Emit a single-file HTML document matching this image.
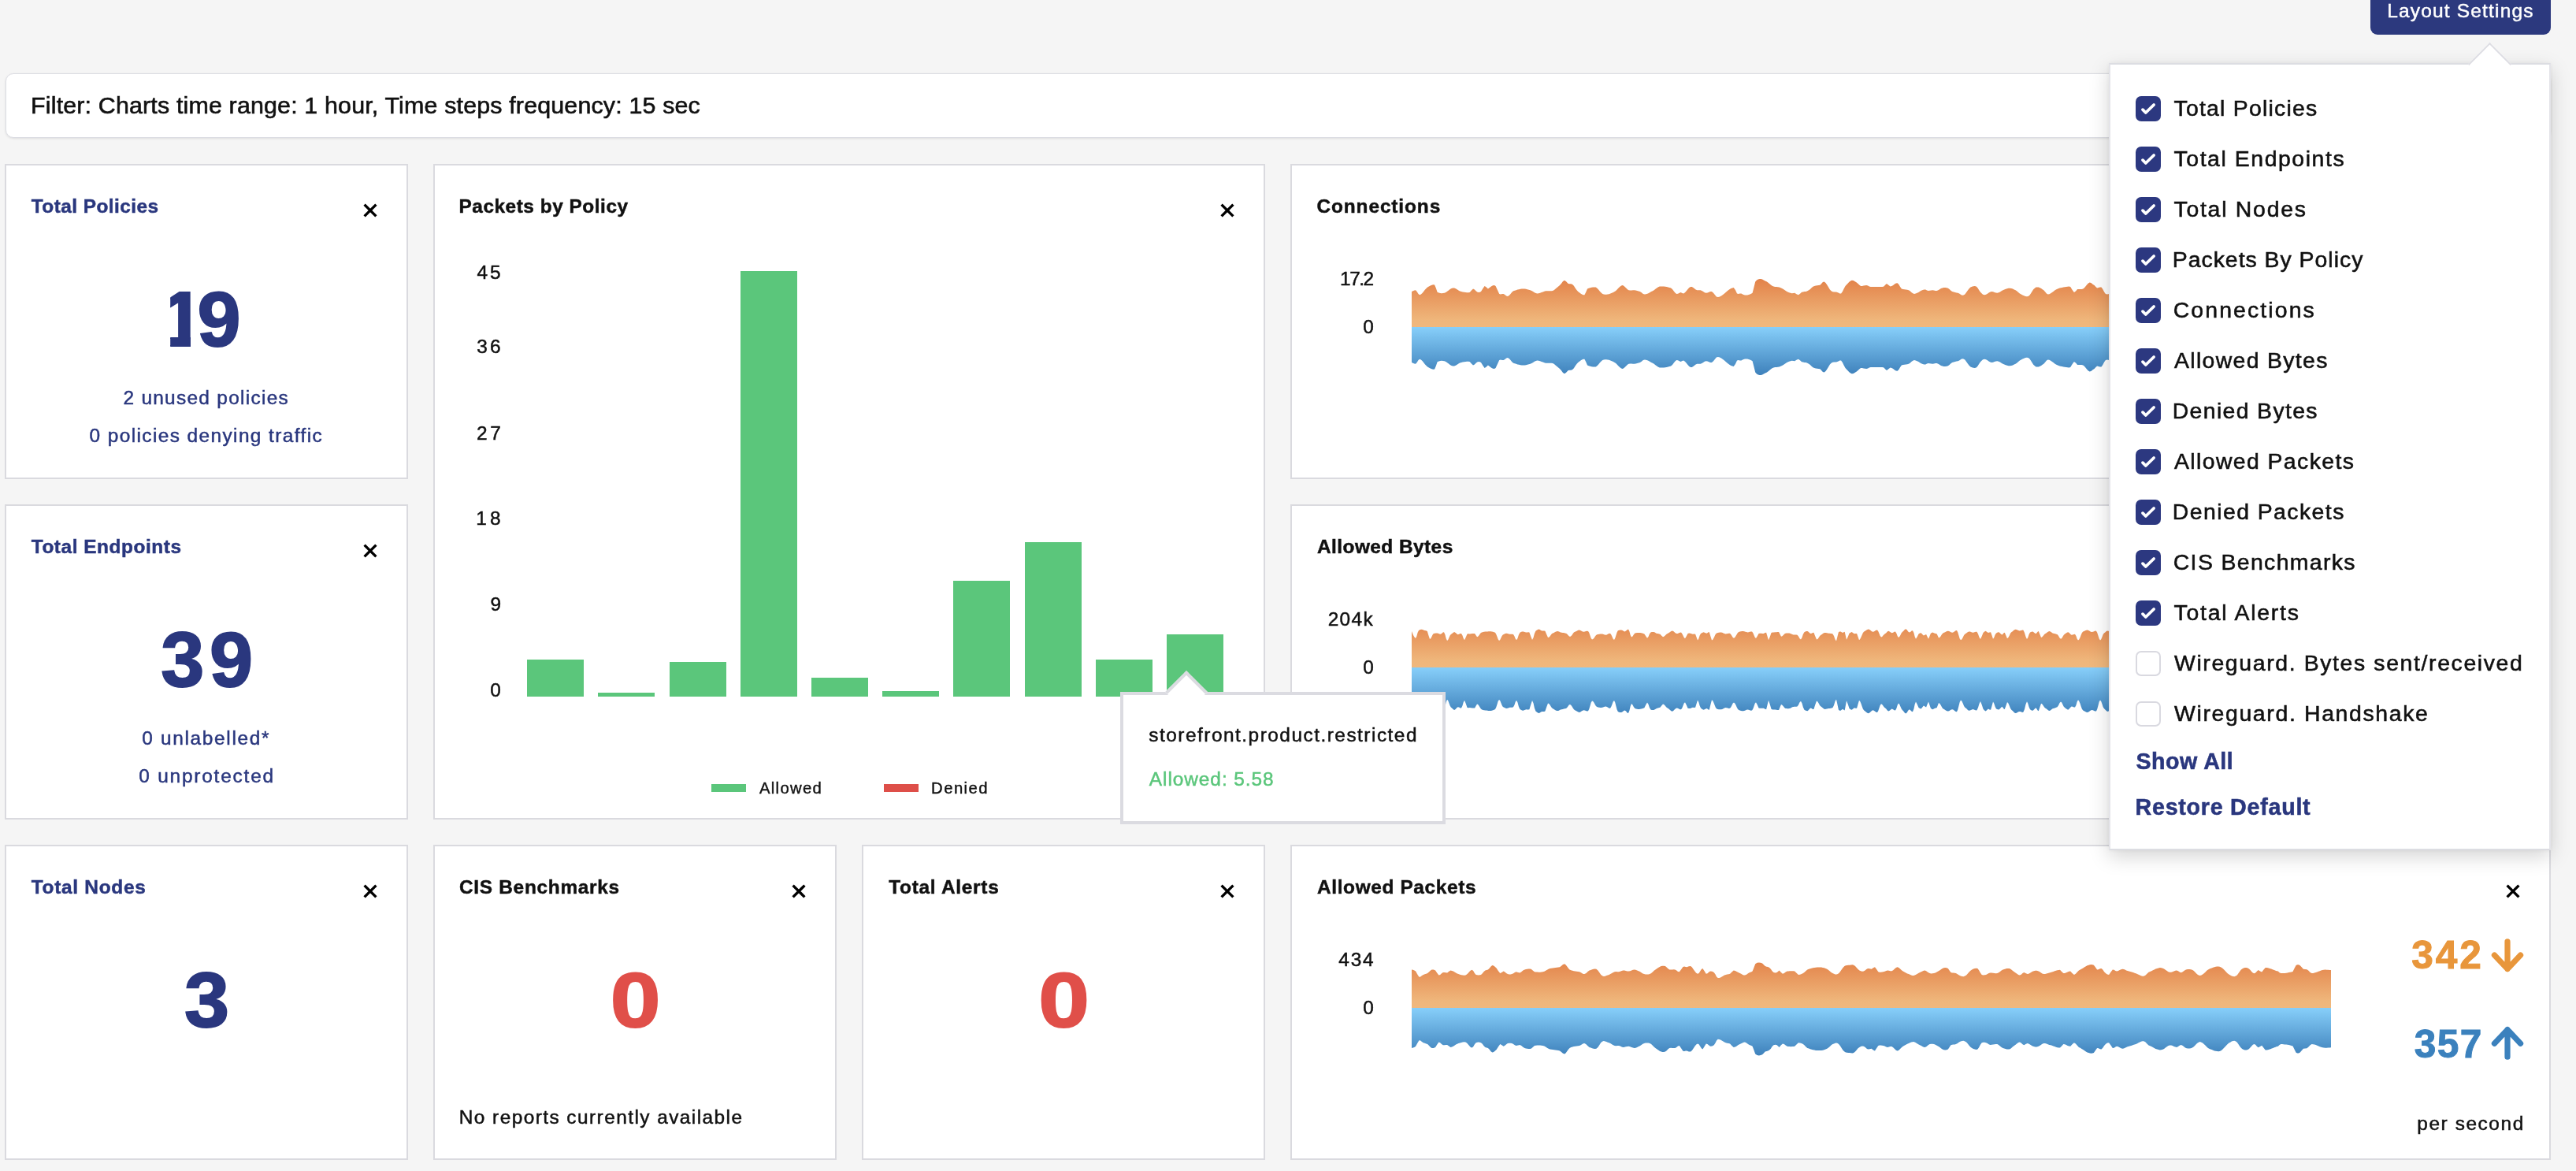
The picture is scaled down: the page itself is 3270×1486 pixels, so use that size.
<!DOCTYPE html>
<html><head><meta charset="utf-8"><title>Dashboard</title>
<style>
html,body{margin:0;padding:0}
body{width:3270px;height:1486px;overflow:hidden;background:#f5f5f5;position:relative;font-family:"Liberation Sans",sans-serif}
#root{position:absolute;left:0;top:0;width:3270px;height:1486px;will-change:transform}
.t{position:absolute;white-space:nowrap;line-height:1;display:block;-webkit-text-stroke:0.02em currentColor}
.b{-webkit-text-stroke:0.02em currentColor}
.card{position:absolute;box-sizing:border-box;background:#fff;border:2px solid #dadadf}
.x{position:absolute;display:block}
.filter{position:absolute;left:6.5px;top:92.5px;width:3231px;height:82px;box-sizing:border-box;background:#fff;border:1.5px solid #dcdde3;border-radius:10px;box-shadow:0 1px 3px rgba(0,0,0,.10)}
.btn{position:absolute;left:3008.5px;top:-20px;width:229.5px;height:64px;border-radius:9px;background:#2c397e}
.bar{position:absolute;background:#5bc67b}
.areas{position:absolute;left:0;top:0;display:block}
.tip{position:absolute;left:1422px;top:878px;width:413px;height:168px;box-sizing:border-box;background:#fff;border:4px solid #dbdbe1}
.tiparrow{position:absolute;left:60.8px;top:-23.5px;width:38px;height:38px;box-sizing:border-box;background:#fff;border-left:4px solid #dbdbe1;border-top:4px solid #dbdbe1;transform:rotate(45deg)}
.dd{position:absolute;left:2677px;top:80px;width:561px;height:999px;box-sizing:border-box;background:#fff;border:2px solid #dcdde2;border-left-color:#e4e4e9;border-right-color:#e4e4e9;box-shadow:0 8px 24px rgba(0,0,0,.17),0 0 6px rgba(0,0,0,.06)}
.ddarrow{position:absolute;left:3141px;top:62.3px;width:39px;height:39px;box-sizing:border-box;background:#fff;border-left:2px solid #dddde3;border-top:2px solid #dddde3;transform:rotate(45deg)}
.ddcover{position:absolute;left:3120px;top:82.5px;width:90px;height:30px;background:#fff}
.cb{position:absolute;width:32px;height:32px;box-sizing:border-box;border:2px solid #d9d9e0;border-radius:7px;background:#fff}
</style></head>
<body>
<div id="root">
<div class="filter"></div>
<span class="t" style="left:39.10px;top:118.27px;font-size:30.4px;color:#111111;letter-spacing:0.164px;">Filter: Charts time range: 1 hour, Time steps frequency: 15 sec</span>
<div class="btn"></div>
<span class="t" style="left:3030.20px;top:1.66px;font-size:24.5px;color:#ffffff;letter-spacing:1.175px;">Layout Settings</span>
<div class="card" style="left:6px;top:208px;width:512px;height:400px"></div>
<div class="card" style="left:6px;top:640px;width:512px;height:400px"></div>
<div class="card" style="left:6px;top:1072px;width:512px;height:400px"></div>
<div class="card" style="left:550px;top:208px;width:1056px;height:832px"></div>
<div class="card" style="left:550px;top:1072px;width:512px;height:400px"></div>
<div class="card" style="left:1094px;top:1072px;width:512px;height:400px"></div>
<div class="card" style="left:1638px;top:208px;width:1600px;height:400px"></div>
<div class="card" style="left:1638px;top:640px;width:1600px;height:400px"></div>
<div class="card" style="left:1638px;top:1072px;width:1600px;height:400px"></div>
<span class="t b" style="left:39.75px;top:249.85px;font-size:24.4px;color:#2a377e;font-weight:700;letter-spacing:0.462px;">Total Policies</span>
<span class="t b" style="left:39.75px;top:681.85px;font-size:24.4px;color:#2a377e;font-weight:700;letter-spacing:0.554px;">Total Endpoints</span>
<span class="t b" style="left:39.75px;top:1113.85px;font-size:24.4px;color:#2a377e;font-weight:700;letter-spacing:0.725px;">Total Nodes</span>
<span class="t b" style="left:582.50px;top:249.85px;font-size:24.4px;color:#111111;font-weight:700;letter-spacing:0.531px;">Packets by Policy</span>
<span class="t b" style="left:583.00px;top:1113.85px;font-size:24.4px;color:#111111;font-weight:700;letter-spacing:0.712px;">CIS Benchmarks</span>
<span class="t b" style="left:1128.25px;top:1113.85px;font-size:24.4px;color:#111111;font-weight:700;letter-spacing:0.727px;">Total Alerts</span>
<span class="t b" style="left:1671.50px;top:249.85px;font-size:24.4px;color:#111111;font-weight:700;letter-spacing:0.900px;">Connections</span>
<span class="t b" style="left:1672.00px;top:681.85px;font-size:24.4px;color:#111111;font-weight:700;letter-spacing:0.458px;">Allowed Bytes</span>
<span class="t b" style="left:1672.00px;top:1113.85px;font-size:24.4px;color:#111111;font-weight:700;letter-spacing:0.643px;">Allowed Packets</span>
<svg class="x" style="left:459.50px;top:256.80px" width="20" height="20" viewBox="0 0 20 20"><path d="M2.6 2.6 L17.4 17.4 M17.4 2.6 L2.6 17.4" stroke="#000" stroke-width="3.4" fill="none"/></svg>
<svg class="x" style="left:459.50px;top:688.80px" width="20" height="20" viewBox="0 0 20 20"><path d="M2.6 2.6 L17.4 17.4 M17.4 2.6 L2.6 17.4" stroke="#000" stroke-width="3.4" fill="none"/></svg>
<svg class="x" style="left:459.50px;top:1120.80px" width="20" height="20" viewBox="0 0 20 20"><path d="M2.6 2.6 L17.4 17.4 M17.4 2.6 L2.6 17.4" stroke="#000" stroke-width="3.4" fill="none"/></svg>
<svg class="x" style="left:1003.50px;top:1120.80px" width="20" height="20" viewBox="0 0 20 20"><path d="M2.6 2.6 L17.4 17.4 M17.4 2.6 L2.6 17.4" stroke="#000" stroke-width="3.4" fill="none"/></svg>
<svg class="x" style="left:1547.50px;top:1120.80px" width="20" height="20" viewBox="0 0 20 20"><path d="M2.6 2.6 L17.4 17.4 M17.4 2.6 L2.6 17.4" stroke="#000" stroke-width="3.4" fill="none"/></svg>
<svg class="x" style="left:1547.50px;top:256.80px" width="20" height="20" viewBox="0 0 20 20"><path d="M2.6 2.6 L17.4 17.4 M17.4 2.6 L2.6 17.4" stroke="#000" stroke-width="3.4" fill="none"/></svg>
<svg class="x" style="left:3179.50px;top:256.80px" width="20" height="20" viewBox="0 0 20 20"><path d="M2.6 2.6 L17.4 17.4 M17.4 2.6 L2.6 17.4" stroke="#000" stroke-width="3.4" fill="none"/></svg>
<svg class="x" style="left:3179.50px;top:688.80px" width="20" height="20" viewBox="0 0 20 20"><path d="M2.6 2.6 L17.4 17.4 M17.4 2.6 L2.6 17.4" stroke="#000" stroke-width="3.4" fill="none"/></svg>
<svg class="x" style="left:3179.50px;top:1120.80px" width="20" height="20" viewBox="0 0 20 20"><path d="M2.6 2.6 L17.4 17.4 M17.4 2.6 L2.6 17.4" stroke="#000" stroke-width="3.4" fill="none"/></svg>
<span class="t b" style="left:204.0px;top:354.70px;font-size:99px;color:#2a377e;font-weight:700;"><span style="display:inline-block;clip-path:inset(0 8.5px 0 12.2px);letter-spacing:-8.6px">1</span>9</span>
<span class="t b" style="left:204.25px;top:786.70px;font-size:99px;color:#2a377e;font-weight:700;letter-spacing:6.750px;">39</span>
<span class="t b" style="left:234.62px;top:1218.80px;font-size:99px;color:#2a377e;font-weight:700;transform:scaleX(1.036);transform-origin:26.88px 50%">3</span>
<span class="t b" style="left:778.92px;top:1218.80px;font-size:99px;color:#e04f49;font-weight:700;transform:scaleX(1.158);transform-origin:27.38px 50%">0</span>
<span class="t b" style="left:1322.62px;top:1218.80px;font-size:99px;color:#e04f49;font-weight:700;transform:scaleX(1.175);transform-origin:27.38px 50%">0</span>
<span class="t" style="left:156.45px;top:493.15px;font-size:24.4px;color:#2a377e;letter-spacing:1.300px;">2 unused policies</span>
<span class="t" style="left:113.55px;top:541.15px;font-size:24.4px;color:#2a377e;letter-spacing:1.410px;">0 policies denying traffic</span>
<span class="t" style="left:180.25px;top:925.15px;font-size:24.4px;color:#2a377e;letter-spacing:1.688px;">0 unlabelled*</span>
<span class="t" style="left:176.20px;top:973.15px;font-size:24.4px;color:#2a377e;letter-spacing:1.812px;">0 unprotected</span>
<span class="t" style="left:582.80px;top:1406.35px;font-size:24.4px;color:#111111;letter-spacing:1.447px;">No reports currently available</span>
<div class="bar" style="left:669px;top:837px;width:72px;height:46.5px"></div>
<div class="bar" style="left:759px;top:879px;width:72px;height:4.5px"></div>
<div class="bar" style="left:849.5px;top:840px;width:72px;height:43.5px"></div>
<div class="bar" style="left:939.5px;top:343.5px;width:72px;height:540.0px"></div>
<div class="bar" style="left:1029.5px;top:859.5px;width:72px;height:24.0px"></div>
<div class="bar" style="left:1120px;top:877px;width:72px;height:6.5px"></div>
<div class="bar" style="left:1210px;top:736.5px;width:72px;height:147.0px"></div>
<div class="bar" style="left:1300.5px;top:688px;width:72px;height:195.5px"></div>
<div class="bar" style="left:1390.5px;top:836.5px;width:72px;height:47.0px"></div>
<div class="bar" style="left:1481px;top:804.5px;width:72px;height:79.0px"></div>
<span class="t" style="left:605.40px;top:334.35px;font-size:24.4px;color:#111111;letter-spacing:3.100px;">45</span>
<span class="t" style="left:605.15px;top:428.35px;font-size:24.4px;color:#111111;letter-spacing:3.350px;">36</span>
<span class="t" style="left:604.90px;top:537.85px;font-size:24.4px;color:#111111;letter-spacing:3.850px;">27</span>
<span class="t" style="left:604.15px;top:646.35px;font-size:24.4px;color:#111111;letter-spacing:4.350px;">18</span>
<span class="t" style="left:622.50px;top:754.85px;font-size:24.4px;color:#111111;">9</span>
<span class="t" style="left:622.25px;top:863.85px;font-size:24.4px;color:#111111;">0</span>
<div style="position:absolute;left:903px;top:995px;width:44px;height:10px;background:#5bc67b"></div>
<div style="position:absolute;left:1122px;top:995px;width:44px;height:10px;background:#de4f49"></div>
<span class="t" style="left:963.90px;top:989.62px;font-size:20.3px;color:#111111;letter-spacing:1.325px;">Allowed</span>
<span class="t" style="left:1182.10px;top:989.62px;font-size:20.3px;color:#111111;letter-spacing:1.440px;">Denied</span>
<svg class="areas" width="3270" height="1486" viewBox="0 0 3270 1486"><linearGradient id="oa" gradientUnits="userSpaceOnUse" x1="0" y1="355" x2="0" y2="415"><stop offset="0" stop-color="#e3834a"/><stop offset="0.85" stop-color="#efb67b"/><stop offset="1" stop-color="#f0b87d"/></linearGradient><linearGradient id="ba" gradientUnits="userSpaceOnUse" x1="0" y1="415" x2="0" y2="475"><stop offset="0" stop-color="#87cffa"/><stop offset="1" stop-color="#3f82bc"/></linearGradient><path d="M1792.0 415.0 L1792.0 370.0 L1793.7 369.3 L1795.4 368.4 L1797.1 368.2 L1798.8 370.2 L1800.5 373.1 L1802.1 374.3 L1803.8 373.5 L1805.5 372.0 L1807.1 370.0 L1808.8 367.8 L1810.5 365.9 L1812.1 364.6 L1813.9 363.5 L1815.7 362.5 L1817.5 361.7 L1819.3 361.3 L1821.1 361.4 L1822.9 365.8 L1824.6 370.7 L1826.4 371.5 L1828.2 371.9 L1830.0 372.2 L1831.8 372.1 L1833.6 371.8 L1835.4 371.1 L1837.1 369.8 L1838.9 368.4 L1840.7 367.0 L1842.5 365.9 L1844.3 365.4 L1846.1 365.6 L1847.9 366.3 L1849.6 367.3 L1851.4 368.4 L1853.2 369.4 L1855.0 370.0 L1856.8 370.4 L1858.6 370.7 L1860.4 371.0 L1862.1 371.2 L1863.9 371.2 L1865.7 371.1 L1867.9 368.6 L1870.0 366.4 L1871.9 367.4 L1873.8 369.4 L1875.7 370.7 L1877.9 371.0 L1880.0 370.0 L1882.3 366.2 L1884.6 362.9 L1886.8 364.5 L1888.9 366.4 L1891.2 364.8 L1893.6 362.9 L1895.2 362.3 L1896.9 362.1 L1898.6 362.9 L1900.9 367.9 L1903.2 372.9 L1905.0 373.4 L1906.8 373.0 L1908.6 372.9 L1910.4 374.0 L1912.1 375.6 L1913.9 376.1 L1915.7 375.0 L1917.5 373.0 L1919.3 370.8 L1921.1 369.3 L1922.9 368.7 L1924.6 368.2 L1926.4 367.6 L1928.2 367.2 L1930.0 366.8 L1931.8 366.6 L1933.6 366.4 L1935.4 366.5 L1937.1 366.7 L1938.9 367.2 L1940.7 367.7 L1942.5 368.2 L1944.3 369.0 L1946.1 370.0 L1947.9 371.2 L1949.6 372.1 L1951.4 372.5 L1953.2 372.3 L1955.0 371.8 L1956.8 371.1 L1958.6 370.4 L1960.4 369.7 L1962.1 369.3 L1963.9 369.2 L1965.7 369.2 L1967.5 369.3 L1969.3 369.3 L1971.1 368.9 L1972.9 368.0 L1974.6 366.6 L1976.4 365.0 L1978.2 363.5 L1980.0 362.1 L1982.0 359.7 L1984.0 357.1 L1986.1 355.7 L1988.4 357.5 L1990.7 360.0 L1992.5 360.3 L1994.3 360.3 L1996.1 361.1 L1997.9 362.8 L1999.6 365.4 L2001.4 368.0 L2003.2 370.0 L2004.9 371.2 L2006.5 372.5 L2008.1 373.5 L2009.8 374.2 L2011.4 374.3 L2013.2 370.7 L2015.0 366.4 L2016.8 365.8 L2018.6 365.2 L2020.4 364.7 L2022.1 364.4 L2023.9 364.4 L2025.7 364.6 L2027.4 365.7 L2029.1 367.6 L2030.9 369.7 L2032.6 371.6 L2034.3 372.9 L2035.9 373.6 L2037.5 373.8 L2039.1 373.8 L2040.7 373.6 L2042.5 373.2 L2044.3 372.6 L2046.1 371.8 L2047.9 370.9 L2049.6 370.0 L2051.2 368.9 L2052.9 367.3 L2054.5 365.6 L2056.1 363.9 L2057.7 362.7 L2059.3 362.1 L2060.9 362.6 L2062.6 363.9 L2064.2 365.6 L2065.9 367.2 L2067.5 368.2 L2069.3 368.5 L2071.1 368.4 L2072.9 368.2 L2074.6 368.2 L2076.4 368.5 L2078.2 368.9 L2080.0 369.4 L2081.8 370.0 L2083.8 371.3 L2085.8 372.9 L2087.9 373.6 L2089.5 373.3 L2091.2 372.7 L2092.9 371.9 L2094.5 371.0 L2096.2 370.1 L2097.9 369.3 L2099.6 368.2 L2101.4 366.8 L2103.2 365.4 L2105.0 364.2 L2106.8 363.6 L2108.6 363.4 L2110.4 363.4 L2112.1 363.6 L2113.9 363.8 L2115.7 364.1 L2117.5 364.5 L2119.3 364.9 L2121.1 365.4 L2122.9 367.0 L2124.6 369.3 L2126.4 371.5 L2128.2 372.9 L2130.0 372.8 L2131.8 371.7 L2133.6 371.1 L2135.4 372.1 L2137.1 372.5 L2138.9 371.3 L2140.7 369.2 L2142.5 366.9 L2144.3 365.0 L2146.1 363.9 L2147.7 364.1 L2149.4 365.0 L2151.0 366.3 L2152.6 367.5 L2154.3 368.2 L2156.4 368.3 L2158.6 368.2 L2160.4 368.9 L2162.1 370.1 L2163.9 371.2 L2165.7 371.8 L2167.5 371.5 L2169.3 370.7 L2171.1 370.0 L2172.9 370.0 L2174.8 371.5 L2176.8 374.1 L2178.8 376.4 L2180.7 377.1 L2182.4 376.8 L2184.0 376.0 L2185.7 375.0 L2187.4 373.8 L2189.0 372.5 L2190.7 371.1 L2192.4 369.6 L2194.0 368.3 L2195.7 367.1 L2197.4 366.1 L2199.0 365.4 L2200.7 365.0 L2202.9 368.1 L2205.0 372.5 L2206.8 372.9 L2208.6 372.6 L2210.4 372.5 L2212.7 373.7 L2215.0 374.6 L2216.6 374.6 L2218.2 374.4 L2219.8 374.1 L2221.4 373.6 L2223.0 372.8 L2224.6 371.8 L2226.4 364.7 L2228.2 357.5 L2230.0 355.5 L2231.8 354.4 L2233.6 353.9 L2235.4 354.1 L2237.1 354.6 L2238.9 355.4 L2240.7 356.4 L2242.5 357.3 L2244.3 358.6 L2246.1 360.1 L2247.9 361.5 L2249.6 362.7 L2251.4 363.6 L2253.2 364.1 L2255.0 364.1 L2256.8 364.2 L2258.6 364.6 L2260.4 365.2 L2262.1 366.1 L2263.9 367.1 L2265.7 368.3 L2267.5 369.4 L2269.3 370.4 L2271.1 371.2 L2272.9 371.8 L2274.6 372.2 L2276.4 371.9 L2278.2 371.8 L2280.5 373.2 L2282.9 374.3 L2285.0 372.7 L2287.1 370.7 L2288.9 370.4 L2290.7 370.1 L2292.5 369.9 L2294.3 369.3 L2296.1 368.3 L2297.9 366.9 L2299.6 365.3 L2301.4 363.8 L2303.2 362.9 L2305.0 362.4 L2306.8 362.2 L2308.6 362.1 L2310.4 361.8 L2312.1 360.1 L2313.9 358.0 L2315.7 357.5 L2317.5 359.0 L2319.3 361.6 L2321.1 364.6 L2322.9 367.5 L2324.6 369.3 L2326.4 370.2 L2328.2 370.5 L2330.0 370.6 L2331.8 370.7 L2333.6 371.6 L2335.4 372.6 L2337.1 372.5 L2338.9 370.0 L2340.7 366.2 L2342.5 362.9 L2344.1 361.3 L2345.8 359.5 L2347.4 357.8 L2349.1 356.5 L2350.7 355.7 L2352.7 356.0 L2354.8 357.3 L2356.8 358.6 L2358.6 360.0 L2360.4 361.7 L2362.1 362.9 L2363.9 362.9 L2365.7 362.6 L2367.5 362.3 L2369.3 362.1 L2371.1 362.6 L2372.9 363.4 L2374.6 363.9 L2376.4 364.0 L2378.2 364.1 L2380.0 364.0 L2381.8 364.0 L2383.6 363.9 L2385.5 363.9 L2387.5 363.9 L2389.5 363.9 L2391.4 363.6 L2393.2 361.6 L2395.0 360.0 L2397.3 361.8 L2399.6 363.6 L2401.4 363.0 L2403.2 361.9 L2405.0 360.6 L2406.8 359.6 L2408.6 359.3 L2410.4 361.0 L2412.1 364.1 L2413.9 366.4 L2415.7 367.0 L2417.5 367.3 L2419.3 367.6 L2421.1 367.8 L2422.9 368.2 L2424.6 369.3 L2426.4 370.9 L2428.2 372.3 L2430.0 372.9 L2431.8 372.6 L2433.6 371.8 L2435.4 370.9 L2437.1 369.8 L2438.9 368.8 L2440.7 368.0 L2442.5 367.5 L2444.3 367.6 L2446.1 368.4 L2447.9 368.9 L2449.6 368.8 L2451.4 368.4 L2453.2 368.2 L2455.0 368.5 L2456.8 368.9 L2458.6 368.9 L2460.4 368.3 L2462.1 367.2 L2463.9 366.0 L2465.7 365.4 L2467.5 365.1 L2469.3 365.1 L2471.1 365.3 L2472.9 365.7 L2474.6 366.9 L2476.4 368.7 L2478.2 370.0 L2480.0 370.5 L2481.8 371.0 L2483.6 371.4 L2485.4 371.8 L2487.1 372.6 L2488.9 373.8 L2490.7 374.7 L2492.5 374.6 L2494.3 373.4 L2496.1 371.1 L2497.9 368.5 L2499.6 366.2 L2501.4 364.6 L2503.2 363.7 L2505.0 363.2 L2506.8 363.1 L2508.6 363.6 L2510.2 365.1 L2511.8 367.5 L2513.4 370.0 L2515.0 371.8 L2517.1 373.7 L2519.3 374.3 L2521.1 373.8 L2522.9 372.8 L2524.6 371.6 L2526.4 370.6 L2528.2 370.0 L2530.0 370.2 L2531.8 370.9 L2533.6 371.6 L2535.4 371.8 L2537.1 371.3 L2538.9 370.4 L2540.7 369.3 L2542.5 368.2 L2544.3 367.5 L2546.1 366.8 L2547.9 366.3 L2549.6 365.8 L2551.4 365.7 L2553.2 366.0 L2555.0 366.6 L2556.8 367.4 L2558.6 368.2 L2560.4 369.4 L2562.1 370.9 L2563.9 372.4 L2565.7 373.6 L2567.5 374.4 L2569.3 375.2 L2571.1 376.0 L2572.9 376.3 L2574.6 376.1 L2576.3 374.7 L2577.9 372.4 L2579.6 369.7 L2581.2 367.3 L2582.9 365.7 L2584.5 364.6 L2586.2 364.4 L2587.9 364.6 L2589.5 365.2 L2591.1 366.1 L2592.7 367.2 L2594.3 368.2 L2596.1 370.2 L2597.9 372.6 L2599.6 373.6 L2601.4 373.2 L2603.2 372.3 L2605.0 371.0 L2606.8 369.7 L2608.6 368.3 L2610.4 367.2 L2612.1 366.4 L2613.9 365.7 L2615.7 365.2 L2617.5 364.9 L2619.3 364.6 L2621.1 364.3 L2622.9 364.0 L2624.6 363.7 L2626.4 363.6 L2628.2 363.9 L2630.5 367.7 L2632.9 371.1 L2635.0 369.5 L2637.1 367.1 L2638.9 366.9 L2640.7 367.0 L2642.5 367.0 L2644.3 366.4 L2645.9 365.2 L2647.6 363.3 L2649.2 361.3 L2650.9 359.5 L2652.5 358.6 L2654.5 359.0 L2656.5 360.7 L2658.6 362.1 L2660.4 364.0 L2662.1 365.4 L2663.9 365.1 L2665.7 364.4 L2667.5 364.6 L2669.3 367.0 L2671.1 370.4 L2672.9 372.9 L2675.0 373.5 L2677.1 372.9 L2678.8 372.2 L2680.5 371.2 L2682.1 370.2 L2683.8 369.5 L2685.7 369.0 L2687.6 368.6 L2689.5 368.4 L2691.4 368.8 L2693.3 369.8 L2695.2 371.5 L2697.0 373.3 L2698.9 374.8 L2700.8 375.2 L2702.5 372.7 L2704.2 368.4 L2705.9 366.0 L2707.6 366.9 L2709.3 369.2 L2711.0 371.8 L2712.7 373.2 L2714.4 373.2 L2716.1 373.0 L2717.8 372.5 L2719.5 371.8 L2721.2 371.2 L2722.9 370.7 L2724.7 370.4 L2726.5 370.2 L2728.3 370.0 L2730.1 370.0 L2731.9 370.0 L2733.7 370.1 L2735.5 370.3 L2737.4 371.0 L2739.3 372.1 L2741.2 373.3 L2743.1 374.1 L2745.0 374.2 L2746.9 373.1 L2748.8 371.2 L2750.7 368.9 L2752.5 366.8 L2754.4 365.6 L2756.2 365.2 L2757.9 365.3 L2759.6 365.7 L2761.4 366.3 L2763.1 367.1 L2764.7 368.2 L2766.3 369.8 L2767.9 371.6 L2769.6 373.3 L2771.2 374.6 L2772.8 375.2 L2774.5 374.8 L2776.2 373.7 L2777.9 372.1 L2779.7 370.6 L2781.4 369.4 L2783.1 368.9 L2784.9 370.0 L2786.7 372.2 L2788.4 374.5 L2790.2 375.6 L2792.0 375.4 L2793.9 374.7 L2795.7 373.6 L2797.6 372.4 L2799.4 371.2 L2801.3 370.3 L2802.9 369.5 L2804.6 368.6 L2806.3 367.6 L2808.0 366.7 L2809.6 366.0 L2811.3 365.5 L2813.0 365.1 L2814.6 365.0 L2816.3 364.9 L2818.0 364.9 L2819.6 364.9 L2821.3 364.9 L2823.2 365.2 L2825.2 365.7 L2827.1 366.2 L2829.1 366.4 L2830.7 366.1 L2832.3 365.5 L2833.9 364.8 L2835.6 364.5 L2837.2 364.8 L2839.0 365.8 L2840.9 367.6 L2842.7 369.8 L2844.6 371.9 L2846.5 373.7 L2848.3 374.8 L2850.3 375.1 L2852.3 374.3 L2854.3 373.4 L2856.0 373.1 L2857.6 372.7 L2859.3 372.2 L2861.0 371.7 L2862.7 371.2 L2864.4 370.9 L2866.0 370.8 L2867.9 370.9 L2869.8 371.3 L2871.7 371.7 L2873.5 372.2 L2875.4 372.4 L2877.1 372.4 L2878.8 372.2 L2880.6 372.0 L2882.3 371.7 L2884.0 371.4 L2885.8 370.9 L2887.7 370.3 L2889.6 369.7 L2891.4 369.0 L2893.2 368.3 L2895.1 367.4 L2896.9 366.5 L2898.7 365.7 L2900.5 365.1 L2902.1 364.9 L2903.8 364.8 L2905.4 364.8 L2907.0 364.9 L2908.7 364.9 L2910.3 364.9 L2912.1 364.7 L2914.0 364.3 L2915.8 363.9 L2917.6 363.7 L2919.5 363.7 L2921.3 364.1 L2922.9 365.3 L2924.5 367.2 L2926.1 369.5 L2927.8 371.7 L2929.4 373.4 L2931.0 374.0 L2932.8 373.4 L2934.7 371.7 L2936.5 369.5 L2938.3 367.2 L2940.2 365.4 L2942.0 364.4 L2943.6 364.4 L2945.2 364.9 L2946.9 365.8 L2948.5 366.8 L2950.1 367.8 L2951.7 368.6 L2953.3 369.2 L2955.2 369.7 L2957.1 369.9 L2959.0 370.0 L2959.0 415.0 Z" fill="url(#oa)"/><path d="M1792.0 415.0 L1792.0 460.0 L1793.7 460.7 L1795.4 461.6 L1797.1 461.8 L1798.8 459.8 L1800.5 456.9 L1802.1 455.7 L1803.8 456.5 L1805.5 458.0 L1807.1 460.0 L1808.8 462.2 L1810.5 464.1 L1812.1 465.4 L1813.9 466.5 L1815.7 467.5 L1817.5 468.3 L1819.3 468.7 L1821.1 468.6 L1822.9 464.2 L1824.6 459.3 L1826.4 458.5 L1828.2 458.1 L1830.0 457.8 L1831.8 457.9 L1833.6 458.2 L1835.4 458.9 L1837.1 460.2 L1838.9 461.6 L1840.7 463.0 L1842.5 464.1 L1844.3 464.6 L1846.1 464.4 L1847.9 463.7 L1849.6 462.7 L1851.4 461.6 L1853.2 460.6 L1855.0 460.0 L1856.8 459.6 L1858.6 459.3 L1860.4 459.0 L1862.1 458.8 L1863.9 458.8 L1865.7 458.9 L1867.9 461.4 L1870.0 463.6 L1871.9 462.6 L1873.8 460.6 L1875.7 459.3 L1877.9 459.0 L1880.0 460.0 L1882.3 463.8 L1884.6 467.1 L1886.8 465.5 L1888.9 463.6 L1891.2 465.2 L1893.6 467.1 L1895.2 467.7 L1896.9 467.9 L1898.6 467.1 L1900.9 462.1 L1903.2 457.1 L1905.0 456.6 L1906.8 457.0 L1908.6 457.1 L1910.4 456.0 L1912.1 454.4 L1913.9 453.9 L1915.7 455.0 L1917.5 457.0 L1919.3 459.2 L1921.1 460.7 L1922.9 461.3 L1924.6 461.8 L1926.4 462.4 L1928.2 462.8 L1930.0 463.2 L1931.8 463.4 L1933.6 463.6 L1935.4 463.5 L1937.1 463.3 L1938.9 462.8 L1940.7 462.3 L1942.5 461.8 L1944.3 461.0 L1946.1 460.0 L1947.9 458.8 L1949.6 457.9 L1951.4 457.5 L1953.2 457.7 L1955.0 458.2 L1956.8 458.9 L1958.6 459.6 L1960.4 460.3 L1962.1 460.7 L1963.9 460.8 L1965.7 460.8 L1967.5 460.7 L1969.3 460.7 L1971.1 461.1 L1972.9 462.0 L1974.6 463.4 L1976.4 465.0 L1978.2 466.5 L1980.0 467.9 L1982.0 470.3 L1984.0 472.9 L1986.1 474.3 L1988.4 472.5 L1990.7 470.0 L1992.5 469.7 L1994.3 469.7 L1996.1 468.9 L1997.9 467.2 L1999.6 464.6 L2001.4 462.0 L2003.2 460.0 L2004.9 458.8 L2006.5 457.5 L2008.1 456.5 L2009.8 455.8 L2011.4 455.7 L2013.2 459.3 L2015.0 463.6 L2016.8 464.2 L2018.6 464.8 L2020.4 465.3 L2022.1 465.6 L2023.9 465.6 L2025.7 465.4 L2027.4 464.3 L2029.1 462.4 L2030.9 460.3 L2032.6 458.4 L2034.3 457.1 L2035.9 456.4 L2037.5 456.2 L2039.1 456.2 L2040.7 456.4 L2042.5 456.8 L2044.3 457.4 L2046.1 458.2 L2047.9 459.1 L2049.6 460.0 L2051.2 461.1 L2052.9 462.7 L2054.5 464.4 L2056.1 466.1 L2057.7 467.3 L2059.3 467.9 L2060.9 467.4 L2062.6 466.1 L2064.2 464.4 L2065.9 462.8 L2067.5 461.8 L2069.3 461.5 L2071.1 461.6 L2072.9 461.8 L2074.6 461.8 L2076.4 461.5 L2078.2 461.1 L2080.0 460.6 L2081.8 460.0 L2083.8 458.7 L2085.8 457.1 L2087.9 456.4 L2089.5 456.7 L2091.2 457.3 L2092.9 458.1 L2094.5 459.0 L2096.2 459.9 L2097.9 460.7 L2099.6 461.8 L2101.4 463.2 L2103.2 464.6 L2105.0 465.8 L2106.8 466.4 L2108.6 466.6 L2110.4 466.6 L2112.1 466.4 L2113.9 466.2 L2115.7 465.9 L2117.5 465.5 L2119.3 465.1 L2121.1 464.6 L2122.9 463.0 L2124.6 460.7 L2126.4 458.5 L2128.2 457.1 L2130.0 457.2 L2131.8 458.3 L2133.6 458.9 L2135.4 457.9 L2137.1 457.5 L2138.9 458.7 L2140.7 460.8 L2142.5 463.1 L2144.3 465.0 L2146.1 466.1 L2147.7 465.9 L2149.4 465.0 L2151.0 463.7 L2152.6 462.5 L2154.3 461.8 L2156.4 461.7 L2158.6 461.8 L2160.4 461.1 L2162.1 459.9 L2163.9 458.8 L2165.7 458.2 L2167.5 458.5 L2169.3 459.3 L2171.1 460.0 L2172.9 460.0 L2174.8 458.5 L2176.8 455.9 L2178.8 453.6 L2180.7 452.9 L2182.4 453.2 L2184.0 454.0 L2185.7 455.0 L2187.4 456.2 L2189.0 457.5 L2190.7 458.9 L2192.4 460.4 L2194.0 461.7 L2195.7 462.9 L2197.4 463.9 L2199.0 464.6 L2200.7 465.0 L2202.9 461.9 L2205.0 457.5 L2206.8 457.1 L2208.6 457.4 L2210.4 457.5 L2212.7 456.3 L2215.0 455.4 L2216.6 455.4 L2218.2 455.6 L2219.8 455.9 L2221.4 456.4 L2223.0 457.2 L2224.6 458.2 L2226.4 465.3 L2228.2 472.5 L2230.0 474.5 L2231.8 475.6 L2233.6 476.1 L2235.4 475.9 L2237.1 475.4 L2238.9 474.6 L2240.7 473.6 L2242.5 472.7 L2244.3 471.4 L2246.1 469.9 L2247.9 468.5 L2249.6 467.3 L2251.4 466.4 L2253.2 465.9 L2255.0 465.9 L2256.8 465.8 L2258.6 465.4 L2260.4 464.8 L2262.1 463.9 L2263.9 462.9 L2265.7 461.7 L2267.5 460.6 L2269.3 459.6 L2271.1 458.8 L2272.9 458.2 L2274.6 457.8 L2276.4 458.1 L2278.2 458.2 L2280.5 456.8 L2282.9 455.7 L2285.0 457.3 L2287.1 459.3 L2288.9 459.6 L2290.7 459.9 L2292.5 460.1 L2294.3 460.7 L2296.1 461.7 L2297.9 463.1 L2299.6 464.7 L2301.4 466.2 L2303.2 467.1 L2305.0 467.6 L2306.8 467.8 L2308.6 467.9 L2310.4 468.2 L2312.1 469.9 L2313.9 472.0 L2315.7 472.5 L2317.5 471.0 L2319.3 468.4 L2321.1 465.4 L2322.9 462.5 L2324.6 460.7 L2326.4 459.8 L2328.2 459.5 L2330.0 459.4 L2331.8 459.3 L2333.6 458.4 L2335.4 457.4 L2337.1 457.5 L2338.9 460.0 L2340.7 463.8 L2342.5 467.1 L2344.1 468.7 L2345.8 470.5 L2347.4 472.2 L2349.1 473.5 L2350.7 474.3 L2352.7 474.0 L2354.8 472.7 L2356.8 471.4 L2358.6 470.0 L2360.4 468.3 L2362.1 467.1 L2363.9 467.1 L2365.7 467.4 L2367.5 467.7 L2369.3 467.9 L2371.1 467.4 L2372.9 466.6 L2374.6 466.1 L2376.4 466.0 L2378.2 465.9 L2380.0 466.0 L2381.8 466.0 L2383.6 466.1 L2385.5 466.1 L2387.5 466.1 L2389.5 466.1 L2391.4 466.4 L2393.2 468.4 L2395.0 470.0 L2397.3 468.2 L2399.6 466.4 L2401.4 467.0 L2403.2 468.1 L2405.0 469.4 L2406.8 470.4 L2408.6 470.7 L2410.4 469.0 L2412.1 465.9 L2413.9 463.6 L2415.7 463.0 L2417.5 462.7 L2419.3 462.4 L2421.1 462.2 L2422.9 461.8 L2424.6 460.7 L2426.4 459.1 L2428.2 457.7 L2430.0 457.1 L2431.8 457.4 L2433.6 458.2 L2435.4 459.1 L2437.1 460.2 L2438.9 461.2 L2440.7 462.0 L2442.5 462.5 L2444.3 462.4 L2446.1 461.6 L2447.9 461.1 L2449.6 461.2 L2451.4 461.6 L2453.2 461.8 L2455.0 461.5 L2456.8 461.1 L2458.6 461.1 L2460.4 461.7 L2462.1 462.8 L2463.9 464.0 L2465.7 464.6 L2467.5 464.9 L2469.3 464.9 L2471.1 464.7 L2472.9 464.3 L2474.6 463.1 L2476.4 461.3 L2478.2 460.0 L2480.0 459.5 L2481.8 459.0 L2483.6 458.6 L2485.4 458.2 L2487.1 457.4 L2488.9 456.2 L2490.7 455.3 L2492.5 455.4 L2494.3 456.6 L2496.1 458.9 L2497.9 461.5 L2499.6 463.8 L2501.4 465.4 L2503.2 466.3 L2505.0 466.8 L2506.8 466.9 L2508.6 466.4 L2510.2 464.9 L2511.8 462.5 L2513.4 460.0 L2515.0 458.2 L2517.1 456.3 L2519.3 455.7 L2521.1 456.2 L2522.9 457.2 L2524.6 458.4 L2526.4 459.4 L2528.2 460.0 L2530.0 459.8 L2531.8 459.1 L2533.6 458.4 L2535.4 458.2 L2537.1 458.7 L2538.9 459.6 L2540.7 460.7 L2542.5 461.8 L2544.3 462.5 L2546.1 463.2 L2547.9 463.7 L2549.6 464.2 L2551.4 464.3 L2553.2 464.0 L2555.0 463.4 L2556.8 462.6 L2558.6 461.8 L2560.4 460.6 L2562.1 459.1 L2563.9 457.6 L2565.7 456.4 L2567.5 455.6 L2569.3 454.8 L2571.1 454.0 L2572.9 453.7 L2574.6 453.9 L2576.3 455.3 L2577.9 457.6 L2579.6 460.3 L2581.2 462.7 L2582.9 464.3 L2584.5 465.4 L2586.2 465.6 L2587.9 465.4 L2589.5 464.8 L2591.1 463.9 L2592.7 462.8 L2594.3 461.8 L2596.1 459.8 L2597.9 457.4 L2599.6 456.4 L2601.4 456.8 L2603.2 457.7 L2605.0 459.0 L2606.8 460.3 L2608.6 461.7 L2610.4 462.8 L2612.1 463.6 L2613.9 464.3 L2615.7 464.8 L2617.5 465.1 L2619.3 465.4 L2621.1 465.7 L2622.9 466.0 L2624.6 466.3 L2626.4 466.4 L2628.2 466.1 L2630.5 462.3 L2632.9 458.9 L2635.0 460.5 L2637.1 462.9 L2638.9 463.1 L2640.7 463.0 L2642.5 463.0 L2644.3 463.6 L2645.9 464.8 L2647.6 466.7 L2649.2 468.7 L2650.9 470.5 L2652.5 471.4 L2654.5 471.0 L2656.5 469.3 L2658.6 467.9 L2660.4 466.0 L2662.1 464.6 L2663.9 464.9 L2665.7 465.6 L2667.5 465.4 L2669.3 463.0 L2671.1 459.6 L2672.9 457.1 L2675.0 456.5 L2677.1 457.1 L2678.8 457.8 L2680.5 458.8 L2682.1 459.8 L2683.8 460.5 L2685.7 461.0 L2687.6 461.4 L2689.5 461.6 L2691.4 461.2 L2693.3 460.2 L2695.2 458.5 L2697.0 456.7 L2698.9 455.2 L2700.8 454.8 L2702.5 457.3 L2704.2 461.6 L2705.9 464.0 L2707.6 463.1 L2709.3 460.8 L2711.0 458.2 L2712.7 456.8 L2714.4 456.8 L2716.1 457.0 L2717.8 457.5 L2719.5 458.2 L2721.2 458.8 L2722.9 459.3 L2724.7 459.6 L2726.5 459.8 L2728.3 460.0 L2730.1 460.0 L2731.9 460.0 L2733.7 459.9 L2735.5 459.7 L2737.4 459.0 L2739.3 457.9 L2741.2 456.7 L2743.1 455.9 L2745.0 455.8 L2746.9 456.9 L2748.8 458.8 L2750.7 461.1 L2752.5 463.2 L2754.4 464.4 L2756.2 464.8 L2757.9 464.7 L2759.6 464.3 L2761.4 463.7 L2763.1 462.9 L2764.7 461.8 L2766.3 460.2 L2767.9 458.4 L2769.6 456.7 L2771.2 455.4 L2772.8 454.8 L2774.5 455.2 L2776.2 456.3 L2777.9 457.9 L2779.7 459.4 L2781.4 460.6 L2783.1 461.1 L2784.9 460.0 L2786.7 457.8 L2788.4 455.5 L2790.2 454.4 L2792.0 454.6 L2793.9 455.3 L2795.7 456.4 L2797.6 457.6 L2799.4 458.8 L2801.3 459.7 L2802.9 460.5 L2804.6 461.4 L2806.3 462.4 L2808.0 463.3 L2809.6 464.0 L2811.3 464.5 L2813.0 464.9 L2814.6 465.0 L2816.3 465.1 L2818.0 465.1 L2819.6 465.1 L2821.3 465.1 L2823.2 464.8 L2825.2 464.3 L2827.1 463.8 L2829.1 463.6 L2830.7 463.9 L2832.3 464.5 L2833.9 465.2 L2835.6 465.5 L2837.2 465.2 L2839.0 464.2 L2840.9 462.4 L2842.7 460.2 L2844.6 458.1 L2846.5 456.3 L2848.3 455.2 L2850.3 454.9 L2852.3 455.7 L2854.3 456.6 L2856.0 456.9 L2857.6 457.3 L2859.3 457.8 L2861.0 458.3 L2862.7 458.8 L2864.4 459.1 L2866.0 459.2 L2867.9 459.1 L2869.8 458.7 L2871.7 458.3 L2873.5 457.8 L2875.4 457.6 L2877.1 457.6 L2878.8 457.8 L2880.6 458.0 L2882.3 458.3 L2884.0 458.6 L2885.8 459.1 L2887.7 459.7 L2889.6 460.3 L2891.4 461.0 L2893.2 461.7 L2895.1 462.6 L2896.9 463.5 L2898.7 464.3 L2900.5 464.9 L2902.1 465.1 L2903.8 465.2 L2905.4 465.2 L2907.0 465.1 L2908.7 465.1 L2910.3 465.1 L2912.1 465.3 L2914.0 465.7 L2915.8 466.1 L2917.6 466.3 L2919.5 466.3 L2921.3 465.9 L2922.9 464.7 L2924.5 462.8 L2926.1 460.5 L2927.8 458.3 L2929.4 456.6 L2931.0 456.0 L2932.8 456.6 L2934.7 458.3 L2936.5 460.5 L2938.3 462.8 L2940.2 464.6 L2942.0 465.6 L2943.6 465.6 L2945.2 465.1 L2946.9 464.2 L2948.5 463.2 L2950.1 462.2 L2951.7 461.4 L2953.3 460.8 L2955.2 460.3 L2957.1 460.1 L2959.0 460.0 L2959.0 415.0 Z" fill="url(#ba)"/><linearGradient id="ob" gradientUnits="userSpaceOnUse" x1="0" y1="787" x2="0" y2="847"><stop offset="0" stop-color="#e3834a"/><stop offset="0.85" stop-color="#efb67b"/><stop offset="1" stop-color="#f0b87d"/></linearGradient><linearGradient id="bb" gradientUnits="userSpaceOnUse" x1="0" y1="847" x2="0" y2="907"><stop offset="0" stop-color="#87cffa"/><stop offset="1" stop-color="#3f82bc"/></linearGradient><path d="M1792.0 847.0 L1792.0 801.0 L1794.0 806.0 L1795.5 808.4 L1797.0 810.0 L1798.3 807.4 L1799.6 802.7 L1801.0 799.9 L1802.8 799.0 L1804.6 798.7 L1805.8 799.0 L1807.0 799.6 L1808.2 800.0 L1810.0 800.3 L1811.8 801.1 L1813.4 806.3 L1815.0 811.1 L1816.2 810.2 L1817.4 807.9 L1818.6 805.4 L1819.8 804.1 L1821.3 803.7 L1822.8 803.5 L1824.2 803.4 L1825.7 803.8 L1827.2 804.4 L1828.6 804.7 L1830.1 803.9 L1831.6 802.6 L1833.0 802.3 L1834.4 805.3 L1835.7 810.2 L1837.0 813.0 L1838.2 811.9 L1839.4 809.3 L1840.6 806.6 L1841.8 805.0 L1843.3 803.9 L1844.8 802.7 L1846.2 802.1 L1847.7 802.9 L1849.2 804.3 L1850.6 805.2 L1852.1 804.8 L1853.6 804.1 L1855.0 804.0 L1856.4 806.3 L1857.7 810.1 L1859.0 812.2 L1860.8 808.5 L1862.5 804.5 L1864.1 804.3 L1865.7 804.4 L1867.3 804.3 L1868.9 804.1 L1870.5 804.0 L1872.1 804.0 L1873.6 806.3 L1875.0 808.3 L1876.2 807.7 L1877.5 806.3 L1878.7 804.6 L1879.9 803.1 L1881.2 802.4 L1882.6 802.0 L1884.0 801.8 L1885.4 801.6 L1886.8 801.5 L1888.2 801.4 L1889.6 801.3 L1891.0 801.2 L1892.4 801.2 L1893.8 801.4 L1895.2 801.7 L1896.6 802.2 L1898.0 802.8 L1899.2 804.7 L1900.5 808.1 L1901.7 811.3 L1903.0 812.9 L1904.2 811.9 L1905.4 809.5 L1906.6 806.9 L1907.8 805.4 L1909.3 804.7 L1910.8 804.0 L1912.2 803.7 L1913.7 803.9 L1915.2 804.4 L1916.6 804.7 L1918.1 804.7 L1919.6 804.8 L1921.0 805.1 L1922.4 807.2 L1923.7 810.6 L1925.0 812.3 L1926.5 809.9 L1927.9 805.6 L1929.4 802.8 L1930.7 802.1 L1932.1 801.6 L1933.4 801.4 L1934.7 801.7 L1936.1 802.3 L1937.4 802.6 L1938.7 802.5 L1940.1 802.3 L1941.4 802.6 L1943.2 807.6 L1945.0 812.0 L1946.5 809.2 L1947.9 804.1 L1949.4 800.8 L1950.7 799.8 L1952.1 799.0 L1953.4 798.6 L1954.7 799.0 L1956.1 799.9 L1957.4 800.4 L1958.7 800.4 L1960.1 800.4 L1961.4 800.7 L1963.2 805.1 L1965.0 809.1 L1966.2 808.7 L1967.5 807.4 L1968.7 805.8 L1969.9 804.3 L1971.2 803.5 L1972.6 802.9 L1974.0 802.1 L1975.4 801.4 L1976.8 801.1 L1978.2 801.3 L1979.6 801.8 L1981.0 802.4 L1982.4 802.7 L1983.8 802.9 L1985.2 803.1 L1986.6 803.4 L1988.0 803.7 L1989.2 804.5 L1990.5 806.0 L1991.7 807.3 L1993.0 807.9 L1994.2 807.3 L1995.5 805.9 L1996.7 804.1 L1997.9 802.6 L1999.2 801.8 L2000.6 801.2 L2002.0 800.5 L2003.4 799.8 L2004.8 799.6 L2006.2 799.9 L2007.6 800.7 L2009.0 801.4 L2010.4 801.8 L2011.8 801.6 L2013.2 801.1 L2014.6 800.8 L2016.0 800.9 L2017.2 802.8 L2018.5 806.4 L2019.7 809.9 L2021.0 811.6 L2022.2 811.1 L2023.5 809.7 L2024.7 807.8 L2025.9 806.2 L2027.2 805.3 L2028.6 805.0 L2030.0 804.7 L2031.4 804.5 L2032.8 804.4 L2034.2 804.6 L2035.6 805.1 L2037.0 805.6 L2038.4 805.8 L2039.8 805.4 L2041.2 804.6 L2042.6 803.9 L2044.0 803.8 L2045.2 805.3 L2046.5 808.1 L2047.7 810.8 L2049.0 811.9 L2050.2 810.1 L2051.4 806.3 L2052.6 802.4 L2053.8 800.2 L2055.3 799.7 L2056.8 799.5 L2058.2 799.6 L2059.7 800.1 L2061.2 801.1 L2062.6 801.5 L2064.1 800.6 L2065.6 799.2 L2067.0 798.6 L2068.4 801.3 L2069.7 805.9 L2071.0 808.6 L2072.5 807.5 L2073.9 805.2 L2075.4 803.6 L2076.7 803.3 L2078.1 803.0 L2079.4 802.9 L2080.7 802.9 L2082.1 803.1 L2083.4 803.3 L2084.7 803.5 L2086.1 803.9 L2087.4 804.4 L2089.2 807.3 L2091.0 809.8 L2092.5 808.0 L2093.9 804.6 L2095.4 802.4 L2096.7 802.1 L2098.1 802.0 L2099.4 802.1 L2100.7 802.6 L2102.1 803.4 L2103.4 803.9 L2104.7 804.1 L2106.1 804.5 L2107.4 804.8 L2109.2 806.7 L2111.0 808.3 L2112.2 807.8 L2113.5 806.8 L2114.7 805.6 L2115.9 804.5 L2117.2 803.8 L2118.6 803.1 L2120.0 802.0 L2121.4 801.0 L2122.8 800.6 L2124.2 801.1 L2125.6 802.3 L2127.0 803.5 L2128.4 804.1 L2129.8 803.9 L2131.2 803.2 L2132.6 802.7 L2134.0 802.6 L2135.2 803.9 L2136.5 806.5 L2137.7 809.0 L2139.0 810.2 L2140.8 807.2 L2142.5 803.9 L2144.1 803.6 L2145.7 803.7 L2147.3 804.3 L2148.9 804.8 L2150.5 804.6 L2152.1 804.7 L2153.6 808.8 L2155.0 812.4 L2156.3 810.4 L2157.6 806.5 L2159.0 804.1 L2160.8 802.9 L2162.6 802.2 L2164.4 802.9 L2166.2 803.7 L2167.4 803.2 L2168.6 802.3 L2169.8 802.2 L2171.4 807.6 L2173.0 812.6 L2174.2 811.8 L2175.5 809.6 L2176.7 806.9 L2177.9 804.6 L2179.2 803.4 L2180.6 802.9 L2182.0 802.7 L2183.4 802.6 L2184.8 802.5 L2186.2 802.8 L2187.6 803.5 L2189.0 804.1 L2190.4 804.4 L2191.8 804.3 L2193.2 804.0 L2194.6 803.8 L2196.0 803.8 L2197.2 804.9 L2198.5 807.0 L2199.7 809.0 L2201.0 809.8 L2202.2 809.0 L2203.5 807.1 L2204.7 804.9 L2205.9 803.0 L2207.2 801.9 L2208.6 801.5 L2210.0 801.2 L2211.4 801.0 L2212.8 801.0 L2214.2 801.2 L2215.6 801.7 L2217.0 802.1 L2218.4 802.4 L2219.8 802.2 L2221.2 801.8 L2222.6 801.5 L2224.0 801.5 L2225.2 803.1 L2226.5 806.0 L2227.7 808.8 L2229.0 810.1 L2230.8 807.3 L2232.5 804.1 L2234.1 803.8 L2235.7 803.8 L2237.3 803.9 L2238.9 803.9 L2240.5 803.0 L2242.1 802.7 L2243.6 807.7 L2245.0 812.2 L2246.8 807.9 L2248.5 803.1 L2250.1 802.5 L2251.7 802.4 L2253.3 802.3 L2254.9 802.2 L2256.5 802.0 L2258.1 802.1 L2259.6 805.0 L2261.0 807.8 L2262.4 807.3 L2263.8 805.9 L2265.1 804.5 L2266.5 803.8 L2267.8 803.6 L2269.0 803.5 L2270.2 803.5 L2271.5 803.6 L2272.8 803.9 L2274.0 804.5 L2275.2 805.1 L2276.5 805.4 L2277.8 805.5 L2279.0 805.5 L2280.2 805.6 L2281.5 805.8 L2283.0 807.5 L2284.5 810.2 L2286.0 811.4 L2287.5 809.1 L2288.9 804.8 L2290.4 802.2 L2291.7 801.5 L2293.1 801.1 L2294.4 801.0 L2295.7 801.8 L2297.1 803.2 L2298.4 804.1 L2299.7 803.7 L2301.1 802.9 L2302.4 802.8 L2304.2 807.3 L2306.0 811.6 L2307.4 810.9 L2308.8 808.9 L2310.1 806.9 L2311.5 805.7 L2312.8 805.0 L2314.0 804.1 L2315.2 803.3 L2316.5 803.0 L2317.8 803.0 L2319.0 803.2 L2320.2 803.5 L2321.5 803.7 L2322.8 803.8 L2324.0 803.9 L2325.2 804.1 L2326.5 804.4 L2328.0 807.1 L2329.5 811.3 L2331.0 813.4 L2332.4 808.0 L2333.9 802.2 L2335.2 801.5 L2336.5 801.4 L2337.8 802.3 L2339.1 803.1 L2340.4 802.2 L2341.7 801.7 L2344.0 811.7 L2345.8 808.0 L2347.5 803.8 L2349.1 802.7 L2350.7 802.1 L2352.3 803.2 L2353.9 804.3 L2355.5 803.9 L2357.1 803.9 L2358.6 808.3 L2360.0 812.2 L2361.2 811.1 L2362.5 808.6 L2363.7 805.7 L2364.9 803.0 L2366.2 801.6 L2367.6 800.7 L2369.0 799.7 L2370.4 798.9 L2371.8 798.5 L2373.2 799.0 L2374.6 800.1 L2376.0 801.3 L2377.4 801.8 L2378.8 801.4 L2380.2 800.5 L2381.6 799.7 L2383.0 799.5 L2384.2 801.0 L2385.5 804.0 L2386.7 806.9 L2388.0 808.4 L2389.2 807.9 L2390.4 806.6 L2391.6 805.2 L2392.8 804.3 L2394.3 803.2 L2395.8 801.6 L2397.2 800.8 L2398.7 801.4 L2400.2 802.5 L2401.6 803.2 L2403.1 802.7 L2404.6 801.8 L2406.0 801.6 L2407.4 803.7 L2408.7 807.2 L2410.0 809.1 L2411.2 808.1 L2412.4 805.9 L2413.6 803.5 L2414.8 802.0 L2416.3 800.7 L2417.8 799.0 L2419.2 798.2 L2420.7 799.3 L2422.2 801.4 L2423.6 802.6 L2425.1 801.9 L2426.6 800.6 L2428.0 800.2 L2429.4 803.1 L2430.7 808.0 L2432.0 810.8 L2433.8 807.9 L2435.5 804.4 L2437.1 803.6 L2438.7 803.3 L2440.3 804.9 L2441.9 806.5 L2443.5 805.7 L2445.1 805.0 L2446.6 808.0 L2448.0 810.7 L2449.4 807.4 L2450.9 803.8 L2452.2 803.0 L2453.5 802.6 L2454.8 803.2 L2456.1 803.8 L2457.4 804.1 L2458.7 804.5 L2461.0 809.6 L2462.2 808.9 L2463.5 807.4 L2464.7 805.6 L2465.9 803.9 L2467.2 803.0 L2468.6 802.4 L2470.0 801.7 L2471.4 801.0 L2472.8 800.7 L2474.2 801.0 L2475.6 801.7 L2477.0 802.4 L2478.4 802.7 L2479.8 802.2 L2481.2 801.2 L2482.6 800.3 L2484.0 800.1 L2485.2 802.3 L2486.5 806.4 L2487.7 810.4 L2489.0 812.3 L2490.4 811.3 L2491.8 808.8 L2493.1 806.1 L2494.5 804.6 L2495.8 803.8 L2497.0 802.8 L2498.2 801.9 L2499.5 801.4 L2500.8 801.6 L2502.0 802.0 L2503.2 802.5 L2504.5 802.7 L2505.8 802.5 L2507.0 802.0 L2508.2 801.7 L2509.5 801.7 L2511.0 804.4 L2512.5 808.8 L2514.0 811.1 L2515.8 807.3 L2517.5 803.0 L2519.1 801.6 L2520.7 800.8 L2522.3 801.9 L2523.9 803.1 L2525.5 802.5 L2527.1 802.2 L2528.6 806.6 L2530.0 810.7 L2531.3 809.0 L2532.6 805.5 L2534.0 803.4 L2535.8 802.6 L2537.6 802.3 L2539.4 803.9 L2541.2 805.5 L2542.4 804.7 L2543.6 803.3 L2544.8 802.7 L2546.4 806.6 L2548.0 810.2 L2549.4 809.0 L2550.8 806.4 L2552.1 803.6 L2553.5 802.0 L2554.8 801.2 L2556.0 800.1 L2557.2 799.2 L2558.5 798.7 L2559.8 798.9 L2561.0 799.5 L2562.2 800.1 L2563.5 800.4 L2564.8 800.3 L2566.0 799.9 L2567.2 799.6 L2568.5 799.8 L2570.0 803.0 L2571.5 808.1 L2573.0 810.9 L2574.3 809.0 L2575.6 805.0 L2577.0 802.6 L2578.8 801.7 L2580.6 801.4 L2582.4 802.9 L2584.2 804.2 L2585.4 803.3 L2586.6 801.7 L2587.8 801.0 L2589.4 805.0 L2591.0 808.9 L2592.4 808.3 L2593.8 806.7 L2595.1 804.9 L2596.5 803.9 L2597.8 803.2 L2599.0 802.3 L2600.2 801.5 L2601.5 801.1 L2602.8 801.5 L2604.0 802.3 L2605.2 803.2 L2606.5 803.7 L2607.8 803.9 L2609.0 804.3 L2610.2 804.7 L2611.5 805.1 L2613.0 806.8 L2614.5 809.4 L2616.0 810.8 L2617.2 809.9 L2618.4 807.9 L2619.6 805.9 L2620.8 804.7 L2622.3 803.8 L2623.8 802.7 L2625.2 802.2 L2626.7 803.1 L2628.2 804.8 L2629.6 805.7 L2631.1 805.5 L2632.6 804.9 L2634.0 804.8 L2635.4 807.1 L2636.7 810.8 L2638.0 812.6 L2639.2 811.4 L2640.5 808.9 L2641.7 805.8 L2642.9 803.0 L2644.2 801.6 L2645.6 800.9 L2647.0 800.3 L2648.4 799.8 L2649.8 799.6 L2651.2 800.0 L2652.6 800.8 L2654.0 801.7 L2655.4 802.1 L2656.8 801.8 L2658.2 801.2 L2659.6 800.6 L2661.0 800.7 L2662.2 802.8 L2663.5 806.8 L2664.7 810.6 L2666.0 812.5 L2667.2 811.3 L2668.4 808.4 L2669.6 805.3 L2670.8 803.6 L2672.3 802.4 L2673.8 801.1 L2675.2 800.4 L2676.7 800.7 L2678.2 801.4 L2679.6 801.8 L2681.1 801.6 L2682.6 801.2 L2684.0 801.4 L2685.4 804.0 L2686.7 808.3 L2688.0 810.6 L2689.4 806.6 L2690.9 801.9 L2692.2 800.5 L2693.5 799.6 L2694.8 801.4 L2696.1 803.3 L2697.4 802.1 L2698.7 801.3 L2701.0 810.5 L2702.2 808.9 L2703.4 805.5 L2704.6 802.0 L2705.8 800.1 L2707.3 799.7 L2708.8 799.8 L2710.2 799.9 L2711.7 800.2 L2713.2 800.8 L2714.6 801.1 L2716.1 801.3 L2717.6 801.4 L2719.0 801.8 L2720.4 804.2 L2721.7 807.9 L2723.0 809.9 L2724.2 808.7 L2725.4 806.2 L2726.6 803.5 L2727.8 802.0 L2729.3 800.7 L2730.8 799.2 L2732.2 798.4 L2733.7 798.9 L2735.2 799.9 L2736.6 800.5 L2738.1 800.6 L2739.6 800.7 L2741.0 801.0 L2742.4 803.4 L2743.7 807.3 L2745.0 809.3 L2746.8 805.1 L2748.5 800.5 L2750.1 800.1 L2751.7 800.1 L2753.3 800.3 L2754.9 800.4 L2756.5 800.0 L2758.1 800.2 L2759.6 806.7 L2761.0 812.7 L2762.4 808.4 L2763.9 803.3 L2765.2 802.4 L2766.5 802.1 L2767.8 804.0 L2769.1 805.9 L2770.4 805.2 L2771.7 804.6 L2774.0 811.7 L2775.3 810.3 L2776.6 807.6 L2778.0 805.8 L2779.8 804.6 L2781.6 803.8 L2783.4 805.0 L2785.2 806.2 L2786.4 805.6 L2787.6 804.5 L2788.8 803.9 L2790.4 806.1 L2792.0 808.2 L2793.5 807.1 L2794.9 805.1 L2796.4 803.8 L2797.7 803.3 L2799.1 802.7 L2800.4 802.5 L2801.7 803.5 L2803.1 805.3 L2804.4 806.2 L2805.7 805.6 L2807.1 804.4 L2808.4 803.9 L2810.2 806.7 L2812.0 809.5 L2813.5 808.4 L2814.9 806.3 L2816.4 804.9 L2817.7 804.5 L2819.1 804.2 L2820.4 804.1 L2821.7 804.3 L2823.1 804.6 L2824.4 804.8 L2825.7 804.4 L2827.1 803.9 L2828.4 803.9 L2830.2 807.9 L2832.0 811.6 L2833.4 807.5 L2834.9 803.0 L2836.2 801.7 L2837.5 800.9 L2838.8 801.6 L2840.1 802.6 L2841.4 803.7 L2842.7 804.9 L2845.0 810.4 L2846.8 805.5 L2848.5 800.3 L2850.1 800.1 L2851.7 800.5 L2853.3 801.3 L2854.9 802.0 L2856.5 800.5 L2858.1 799.7 L2859.6 806.5 L2861.0 812.9 L2862.8 807.8 L2864.5 802.0 L2866.1 800.1 L2867.7 798.9 L2869.3 800.2 L2870.9 801.5 L2872.5 801.4 L2874.1 801.5 L2875.6 805.1 L2877.0 808.4 L2878.2 807.4 L2879.4 805.2 L2880.6 802.9 L2881.8 801.7 L2883.3 801.6 L2884.8 802.0 L2886.2 802.3 L2887.7 802.7 L2889.2 803.2 L2890.6 803.5 L2892.1 803.1 L2893.6 802.3 L2895.0 802.1 L2896.4 804.1 L2897.7 807.5 L2899.0 809.3 L2900.4 806.3 L2901.9 803.0 L2903.2 802.9 L2904.5 803.1 L2905.8 803.9 L2907.1 804.6 L2908.4 803.4 L2909.7 802.7 L2912.0 813.4 L2913.3 810.3 L2914.6 804.6 L2916.0 801.0 L2917.8 800.0 L2919.6 799.7 L2921.4 801.4 L2923.2 802.9 L2924.4 802.1 L2925.6 800.7 L2926.8 800.2 L2928.4 805.5 L2930.0 810.8 L2931.8 808.8 L2933.5 806.2 L2935.1 804.1 L2936.7 802.4 L2938.3 803.4 L2939.9 804.6 L2941.5 804.0 L2943.1 803.5 L2944.6 806.5 L2946.0 809.2 L2947.3 809.1 L2948.6 808.6 L2949.9 808.0 L2951.2 807.1 L2952.5 806.3 L2953.8 805.4 L2955.1 804.5 L2956.4 803.8 L2957.7 803.3 L2959.0 803.0 L2959.0 847.0 Z" fill="url(#ob)"/><path d="M1792.0 847.0 L1792.0 902.2 L1794.0 896.2 L1795.5 893.3 L1797.0 891.4 L1798.3 894.6 L1799.6 900.1 L1801.0 903.6 L1802.8 904.6 L1804.6 905.0 L1805.8 904.6 L1807.0 903.9 L1808.2 903.4 L1810.0 903.0 L1811.8 902.1 L1813.4 895.8 L1815.0 890.0 L1816.2 891.2 L1817.4 894.0 L1818.6 896.9 L1819.8 898.5 L1821.3 899.0 L1822.8 899.2 L1824.2 899.3 L1825.7 898.8 L1827.2 898.1 L1828.6 897.8 L1830.1 898.7 L1831.6 900.2 L1833.0 900.7 L1834.4 897.1 L1835.7 891.1 L1837.0 887.8 L1838.2 889.1 L1839.4 892.2 L1840.6 895.5 L1841.8 897.4 L1843.3 898.7 L1844.8 900.2 L1846.2 900.9 L1847.7 900.0 L1849.2 898.2 L1850.6 897.2 L1852.1 897.6 L1853.6 898.4 L1855.0 898.6 L1856.4 895.8 L1857.7 891.2 L1859.0 888.8 L1860.8 893.1 L1862.5 898.0 L1864.1 898.3 L1865.7 898.1 L1867.3 898.3 L1868.9 898.4 L1870.5 898.6 L1872.1 898.6 L1873.6 895.8 L1875.0 893.4 L1876.2 894.1 L1877.5 895.8 L1878.7 897.8 L1879.9 899.6 L1881.2 900.6 L1882.6 901.0 L1884.0 901.3 L1885.4 901.5 L1886.8 901.6 L1888.2 901.7 L1889.6 901.9 L1891.0 901.9 L1892.4 901.9 L1893.8 901.7 L1895.2 901.3 L1896.6 900.7 L1898.0 900.1 L1899.2 897.8 L1900.5 893.7 L1901.7 889.8 L1903.0 887.9 L1904.2 889.1 L1905.4 892.1 L1906.6 895.1 L1907.8 896.9 L1909.3 897.7 L1910.8 898.6 L1912.2 899.0 L1913.7 898.7 L1915.2 898.2 L1916.6 897.8 L1918.1 897.8 L1919.6 897.7 L1921.0 897.3 L1922.4 894.8 L1923.7 890.7 L1925.0 888.7 L1926.5 891.5 L1927.9 896.7 L1929.4 900.0 L1930.7 900.8 L1932.1 901.4 L1933.4 901.7 L1934.7 901.3 L1936.1 900.7 L1937.4 900.3 L1938.7 900.4 L1940.1 900.6 L1941.4 900.3 L1943.2 894.3 L1945.0 889.0 L1946.5 892.3 L1947.9 898.5 L1949.4 902.5 L1950.7 903.6 L1952.1 904.6 L1953.4 905.1 L1954.7 904.6 L1956.1 903.5 L1957.4 902.9 L1958.7 902.9 L1960.1 902.9 L1961.4 902.5 L1963.2 897.3 L1965.0 892.5 L1966.2 893.0 L1967.5 894.5 L1968.7 896.5 L1969.9 898.2 L1971.2 899.2 L1972.6 899.9 L1974.0 900.9 L1975.4 901.7 L1976.8 902.1 L1978.2 901.9 L1979.6 901.3 L1981.0 900.6 L1982.4 900.2 L1983.8 899.9 L1985.2 899.6 L1986.6 899.3 L1988.0 899.0 L1989.2 898.0 L1990.5 896.2 L1991.7 894.6 L1993.0 893.9 L1994.2 894.7 L1995.5 896.4 L1996.7 898.4 L1997.9 900.2 L1999.2 901.2 L2000.6 901.9 L2002.0 902.8 L2003.4 903.6 L2004.8 903.9 L2006.2 903.5 L2007.6 902.6 L2009.0 901.7 L2010.4 901.2 L2011.8 901.5 L2013.2 902.0 L2014.6 902.5 L2016.0 902.3 L2017.2 900.0 L2018.5 895.7 L2019.7 891.5 L2021.0 889.5 L2022.2 890.1 L2023.5 891.8 L2024.7 894.0 L2025.9 896.0 L2027.2 897.0 L2028.6 897.4 L2030.0 897.8 L2031.4 898.0 L2032.8 898.1 L2034.2 897.8 L2035.6 897.3 L2037.0 896.7 L2038.4 896.5 L2039.8 896.9 L2041.2 897.8 L2042.6 898.7 L2044.0 898.8 L2045.2 897.1 L2046.5 893.7 L2047.7 890.5 L2049.0 889.1 L2050.2 891.3 L2051.4 895.9 L2052.6 900.6 L2053.8 903.1 L2055.3 903.8 L2056.8 904.0 L2058.2 903.9 L2059.7 903.2 L2061.2 902.1 L2062.6 901.6 L2064.1 902.6 L2065.6 904.4 L2067.0 905.1 L2068.4 901.8 L2069.7 896.3 L2071.0 893.1 L2072.5 894.4 L2073.9 897.2 L2075.4 899.0 L2076.7 899.5 L2078.1 899.8 L2079.4 900.0 L2080.7 899.9 L2082.1 899.7 L2083.4 899.5 L2084.7 899.2 L2086.1 898.7 L2087.4 898.2 L2089.2 894.6 L2091.0 891.6 L2092.5 893.8 L2093.9 897.9 L2095.4 900.5 L2096.7 900.9 L2098.1 900.9 L2099.4 900.9 L2100.7 900.3 L2102.1 899.4 L2103.4 898.7 L2104.7 898.4 L2106.1 898.1 L2107.4 897.7 L2109.2 895.4 L2111.0 893.5 L2112.2 894.0 L2113.5 895.2 L2114.7 896.7 L2115.9 898.0 L2117.2 898.8 L2118.6 899.7 L2120.0 901.0 L2121.4 902.2 L2122.8 902.7 L2124.2 902.0 L2125.6 900.6 L2127.0 899.2 L2128.4 898.5 L2129.8 898.8 L2131.2 899.5 L2132.6 900.2 L2134.0 900.3 L2135.2 898.7 L2136.5 895.6 L2137.7 892.6 L2139.0 891.2 L2140.8 894.7 L2142.5 898.7 L2144.1 899.0 L2145.7 898.9 L2147.3 898.3 L2148.9 897.7 L2150.5 897.9 L2152.1 897.8 L2153.6 892.9 L2155.0 888.5 L2156.3 890.9 L2157.6 895.6 L2159.0 898.5 L2160.8 899.9 L2162.6 900.8 L2164.4 899.9 L2166.2 899.0 L2167.4 899.6 L2168.6 900.6 L2169.8 900.7 L2171.4 894.3 L2173.0 888.2 L2174.2 889.3 L2175.5 891.9 L2176.7 895.1 L2177.9 897.9 L2179.2 899.4 L2180.6 899.9 L2182.0 900.2 L2183.4 900.3 L2184.8 900.3 L2186.2 900.0 L2187.6 899.3 L2189.0 898.5 L2190.4 898.1 L2191.8 898.3 L2193.2 898.6 L2194.6 898.9 L2196.0 898.8 L2197.2 897.5 L2198.5 895.0 L2199.7 892.6 L2201.0 891.6 L2202.2 892.6 L2203.5 894.8 L2204.7 897.5 L2205.9 899.8 L2207.2 901.1 L2208.6 901.6 L2210.0 901.9 L2211.4 902.2 L2212.8 902.3 L2214.2 902.0 L2215.6 901.4 L2217.0 900.8 L2218.4 900.5 L2219.8 900.8 L2221.2 901.3 L2222.6 901.7 L2224.0 901.6 L2225.2 899.7 L2226.5 896.2 L2227.7 892.8 L2229.0 891.2 L2230.8 894.6 L2232.5 898.5 L2234.1 898.8 L2235.7 898.8 L2237.3 898.8 L2238.9 898.8 L2240.5 899.8 L2242.1 900.2 L2243.6 894.2 L2245.0 888.7 L2246.8 893.9 L2248.5 899.7 L2250.1 900.4 L2251.7 900.5 L2253.3 900.6 L2254.9 900.7 L2256.5 901.0 L2258.1 900.9 L2259.6 897.3 L2261.0 894.0 L2262.4 894.7 L2263.8 896.3 L2265.1 898.0 L2266.5 898.9 L2267.8 899.1 L2269.0 899.2 L2270.2 899.2 L2271.5 899.1 L2272.8 898.8 L2274.0 898.0 L2275.2 897.3 L2276.5 896.9 L2277.8 896.8 L2279.0 896.8 L2280.2 896.7 L2281.5 896.4 L2283.0 894.4 L2284.5 891.2 L2286.0 889.7 L2287.5 892.5 L2288.9 897.6 L2290.4 900.8 L2291.7 901.6 L2293.1 902.1 L2294.4 902.2 L2295.7 901.2 L2297.1 899.5 L2298.4 898.5 L2299.7 899.0 L2301.1 899.9 L2302.4 900.1 L2304.2 894.6 L2306.0 889.4 L2307.4 890.4 L2308.8 892.7 L2310.1 895.2 L2311.5 896.6 L2312.8 897.4 L2314.0 898.4 L2315.2 899.4 L2316.5 899.9 L2317.8 899.8 L2319.0 899.5 L2320.2 899.2 L2321.5 898.9 L2322.8 898.9 L2324.0 898.7 L2325.2 898.5 L2326.5 898.1 L2328.0 894.9 L2329.5 889.9 L2331.0 887.4 L2332.4 893.8 L2333.9 900.8 L2335.2 901.7 L2336.5 901.8 L2337.8 900.7 L2339.1 899.7 L2340.4 900.8 L2341.7 901.4 L2344.0 889.3 L2345.8 893.8 L2347.5 898.9 L2349.1 900.2 L2350.7 900.8 L2352.3 899.6 L2353.9 898.2 L2355.5 898.7 L2357.1 898.8 L2358.6 893.5 L2360.0 888.8 L2361.2 890.1 L2362.5 893.0 L2363.7 896.6 L2364.9 899.8 L2366.2 901.5 L2367.6 902.5 L2369.0 903.8 L2370.4 904.8 L2371.8 905.2 L2373.2 904.6 L2374.6 903.2 L2376.0 901.9 L2377.4 901.3 L2378.8 901.7 L2380.2 902.8 L2381.6 903.8 L2383.0 904.0 L2384.2 902.2 L2385.5 898.6 L2386.7 895.1 L2388.0 893.3 L2389.2 893.9 L2390.4 895.4 L2391.6 897.2 L2392.8 898.3 L2394.3 899.6 L2395.8 901.5 L2397.2 902.4 L2398.7 901.7 L2400.2 900.4 L2401.6 899.6 L2403.1 900.2 L2404.6 901.2 L2406.0 901.5 L2407.4 899.0 L2408.7 894.7 L2410.0 892.5 L2411.2 893.7 L2412.4 896.4 L2413.6 899.3 L2414.8 901.0 L2416.3 902.5 L2417.8 904.6 L2419.2 905.5 L2420.7 904.2 L2422.2 901.7 L2423.6 900.3 L2425.1 901.2 L2426.6 902.7 L2428.0 903.2 L2429.4 899.7 L2430.7 893.7 L2432.0 890.4 L2433.8 893.9 L2435.5 898.1 L2437.1 899.1 L2438.7 899.4 L2440.3 897.5 L2441.9 895.6 L2443.5 896.6 L2445.1 897.4 L2446.6 893.8 L2448.0 890.6 L2449.4 894.5 L2450.9 898.8 L2452.2 899.8 L2453.5 900.2 L2454.8 899.6 L2456.1 898.8 L2457.4 898.5 L2458.7 898.0 L2461.0 891.9 L2462.2 892.7 L2463.5 894.5 L2464.7 896.7 L2465.9 898.7 L2467.2 899.8 L2468.6 900.5 L2470.0 901.4 L2471.4 902.2 L2472.8 902.5 L2474.2 902.2 L2475.6 901.3 L2477.0 900.5 L2478.4 900.2 L2479.8 900.8 L2481.2 902.0 L2482.6 903.1 L2484.0 903.2 L2485.2 900.7 L2486.5 895.8 L2487.7 891.0 L2489.0 888.6 L2490.4 889.8 L2491.8 892.8 L2493.1 896.0 L2494.5 897.9 L2495.8 898.8 L2497.0 900.1 L2498.2 901.2 L2499.5 901.7 L2500.8 901.5 L2502.0 901.0 L2503.2 900.4 L2504.5 900.1 L2505.8 900.4 L2507.0 901.0 L2508.2 901.4 L2509.5 901.3 L2511.0 898.1 L2512.5 892.9 L2514.0 890.1 L2515.8 894.6 L2517.5 899.8 L2519.1 901.4 L2520.7 902.4 L2522.3 901.1 L2523.9 899.6 L2525.5 900.4 L2527.1 900.7 L2528.6 895.4 L2530.0 890.6 L2531.3 892.7 L2532.6 896.8 L2534.0 899.4 L2535.8 900.3 L2537.6 900.6 L2539.4 898.7 L2541.2 896.8 L2542.4 897.8 L2543.6 899.4 L2544.8 900.1 L2546.4 895.5 L2548.0 891.1 L2549.4 892.6 L2550.8 895.8 L2552.1 899.1 L2553.5 901.0 L2554.8 902.0 L2556.0 903.3 L2557.2 904.4 L2558.5 904.9 L2559.8 904.7 L2561.0 904.0 L2562.2 903.3 L2563.5 902.9 L2564.8 903.1 L2566.0 903.5 L2567.2 903.9 L2568.5 903.6 L2570.0 899.9 L2571.5 893.7 L2573.0 890.3 L2574.3 892.7 L2575.6 897.3 L2577.0 900.3 L2578.8 901.4 L2580.6 901.7 L2582.4 900.0 L2584.2 898.3 L2585.4 899.4 L2586.6 901.4 L2587.8 902.2 L2589.4 897.4 L2591.0 892.7 L2592.4 893.5 L2593.8 895.4 L2595.1 897.5 L2596.5 898.8 L2597.8 899.5 L2599.0 900.6 L2600.2 901.6 L2601.5 902.0 L2602.8 901.6 L2604.0 900.6 L2605.2 899.6 L2606.5 899.0 L2607.8 898.7 L2609.0 898.2 L2610.2 897.8 L2611.5 897.3 L2613.0 895.3 L2614.5 892.1 L2616.0 890.5 L2617.2 891.6 L2618.4 893.9 L2619.6 896.4 L2620.8 897.8 L2622.3 898.9 L2623.8 900.1 L2625.2 900.7 L2626.7 899.6 L2628.2 897.7 L2629.6 896.5 L2631.1 896.8 L2632.6 897.5 L2634.0 897.6 L2635.4 894.9 L2636.7 890.5 L2638.0 888.3 L2639.2 889.7 L2640.5 892.8 L2641.7 896.5 L2642.9 899.7 L2644.2 901.5 L2645.6 902.3 L2647.0 903.1 L2648.4 903.7 L2649.8 903.9 L2651.2 903.4 L2652.6 902.4 L2654.0 901.4 L2655.4 900.9 L2656.8 901.2 L2658.2 902.0 L2659.6 902.6 L2661.0 902.6 L2662.2 900.0 L2663.5 895.3 L2664.7 890.6 L2666.0 888.4 L2667.2 889.9 L2668.4 893.3 L2669.6 897.0 L2670.8 899.1 L2672.3 900.5 L2673.8 902.1 L2675.2 902.9 L2676.7 902.6 L2678.2 901.8 L2679.6 901.3 L2681.1 901.5 L2682.6 901.9 L2684.0 901.7 L2685.4 898.6 L2686.7 893.4 L2688.0 890.7 L2689.4 895.5 L2690.9 901.1 L2692.2 902.8 L2693.5 903.9 L2694.8 901.7 L2696.1 899.5 L2697.4 900.8 L2698.7 901.8 L2701.0 890.9 L2702.2 892.7 L2703.4 896.8 L2704.6 901.0 L2705.8 903.3 L2707.3 903.7 L2708.8 903.7 L2710.2 903.5 L2711.7 903.1 L2713.2 902.5 L2714.6 902.0 L2716.1 901.9 L2717.6 901.7 L2719.0 901.2 L2720.4 898.4 L2721.7 893.9 L2723.0 891.6 L2724.2 892.9 L2725.4 896.0 L2726.6 899.2 L2727.8 901.1 L2729.3 902.5 L2730.8 904.4 L2732.2 905.3 L2733.7 904.7 L2735.2 903.5 L2736.6 902.7 L2738.1 902.7 L2739.6 902.6 L2741.0 902.2 L2742.4 899.3 L2743.7 894.6 L2745.0 892.2 L2746.8 897.2 L2748.5 902.8 L2750.1 903.3 L2751.7 903.3 L2753.3 903.1 L2754.9 902.9 L2756.5 903.4 L2758.1 903.2 L2759.6 895.4 L2761.0 888.2 L2762.4 893.4 L2763.9 899.4 L2765.2 900.5 L2766.5 900.9 L2767.8 898.6 L2769.1 896.4 L2770.4 897.2 L2771.7 897.9 L2774.0 889.4 L2775.3 891.0 L2776.6 894.3 L2778.0 896.5 L2779.8 897.9 L2781.6 898.8 L2783.4 897.4 L2785.2 895.9 L2786.4 896.7 L2787.6 898.0 L2788.8 898.7 L2790.4 896.0 L2792.0 893.6 L2793.5 894.8 L2794.9 897.2 L2796.4 898.8 L2797.7 899.5 L2799.1 900.2 L2800.4 900.4 L2801.7 899.2 L2803.1 897.1 L2804.4 895.9 L2805.7 896.6 L2807.1 898.1 L2808.4 898.7 L2810.2 895.3 L2812.0 892.0 L2813.5 893.3 L2814.9 895.9 L2816.4 897.5 L2817.7 897.9 L2819.1 898.3 L2820.4 898.5 L2821.7 898.3 L2823.1 897.9 L2824.4 897.7 L2825.7 898.1 L2827.1 898.7 L2828.4 898.7 L2830.2 893.9 L2832.0 889.5 L2833.4 894.3 L2834.9 899.8 L2836.2 901.4 L2837.5 902.4 L2838.8 901.4 L2840.1 900.3 L2841.4 899.0 L2842.7 897.5 L2845.0 890.9 L2846.8 896.8 L2848.5 903.1 L2850.1 903.3 L2851.7 902.8 L2853.3 901.8 L2854.9 901.0 L2856.5 902.7 L2858.1 903.7 L2859.6 895.6 L2861.0 888.0 L2862.8 894.0 L2864.5 901.0 L2866.1 903.2 L2867.7 904.7 L2869.3 903.2 L2870.9 901.6 L2872.5 901.7 L2874.1 901.7 L2875.6 897.3 L2877.0 893.3 L2878.2 894.5 L2879.4 897.2 L2880.6 899.9 L2881.8 901.4 L2883.3 901.5 L2884.8 901.0 L2886.2 900.7 L2887.7 900.2 L2889.2 899.5 L2890.6 899.2 L2892.1 899.7 L2893.6 900.6 L2895.0 900.8 L2896.4 898.4 L2897.7 894.4 L2899.0 892.2 L2900.4 895.8 L2901.9 899.8 L2903.2 899.9 L2904.5 899.6 L2905.8 898.7 L2907.1 897.9 L2908.4 899.3 L2909.7 900.2 L2912.0 887.3 L2913.3 891.0 L2914.6 897.9 L2916.0 902.2 L2917.8 903.4 L2919.6 903.7 L2921.4 901.8 L2923.2 899.9 L2924.4 900.9 L2925.6 902.6 L2926.8 903.2 L2928.4 896.8 L2930.0 890.5 L2931.8 892.8 L2933.5 896.0 L2935.1 898.5 L2936.7 900.5 L2938.3 899.3 L2939.9 897.9 L2941.5 898.6 L2943.1 899.2 L2944.6 895.6 L2946.0 892.3 L2947.3 892.5 L2948.6 893.1 L2949.9 893.9 L2951.2 894.8 L2952.5 895.9 L2953.8 897.0 L2955.1 898.0 L2956.4 898.8 L2957.7 899.5 L2959.0 899.8 L2959.0 847.0 Z" fill="url(#bb)"/><linearGradient id="oc" gradientUnits="userSpaceOnUse" x1="0" y1="1219" x2="0" y2="1279"><stop offset="0" stop-color="#e3834a"/><stop offset="0.85" stop-color="#efb67b"/><stop offset="1" stop-color="#f0b87d"/></linearGradient><linearGradient id="bc" gradientUnits="userSpaceOnUse" x1="0" y1="1279" x2="0" y2="1339"><stop offset="0" stop-color="#87cffa"/><stop offset="1" stop-color="#3f82bc"/></linearGradient><path d="M1792.0 1279.0 L1792.0 1230.4 L1793.7 1230.8 L1795.4 1231.5 L1797.1 1232.6 L1799.3 1236.4 L1801.4 1239.7 L1803.2 1239.4 L1805.0 1238.0 L1806.8 1236.9 L1808.6 1236.3 L1810.4 1235.8 L1812.1 1235.1 L1813.9 1233.6 L1815.7 1231.7 L1817.5 1230.4 L1819.8 1230.4 L1822.1 1231.5 L1824.3 1234.8 L1826.4 1237.6 L1828.2 1236.9 L1830.0 1235.2 L1831.8 1234.0 L1833.6 1234.0 L1835.4 1234.3 L1837.1 1234.4 L1839.3 1232.7 L1841.4 1231.5 L1843.1 1231.9 L1844.8 1232.6 L1846.4 1233.6 L1848.1 1234.6 L1849.8 1235.5 L1851.4 1236.1 L1853.2 1236.7 L1855.0 1237.2 L1856.8 1237.6 L1858.6 1237.8 L1860.4 1237.6 L1862.0 1236.6 L1863.6 1234.9 L1865.3 1233.0 L1866.9 1231.5 L1868.6 1230.8 L1870.2 1232.1 L1871.9 1234.9 L1873.6 1236.9 L1875.2 1237.3 L1876.8 1237.5 L1878.4 1237.3 L1880.0 1236.9 L1881.8 1235.3 L1883.6 1233.1 L1885.4 1231.5 L1887.1 1231.0 L1888.9 1230.4 L1890.7 1228.7 L1892.5 1226.4 L1894.3 1225.1 L1896.1 1225.6 L1897.9 1227.0 L1899.6 1228.6 L1902.0 1232.2 L1904.3 1235.1 L1906.4 1234.0 L1908.6 1232.6 L1910.4 1233.5 L1912.1 1235.0 L1913.9 1236.1 L1915.7 1236.5 L1917.5 1236.4 L1919.3 1236.1 L1921.1 1235.3 L1922.9 1234.0 L1924.6 1233.3 L1927.0 1233.9 L1929.3 1234.4 L1931.3 1233.3 L1933.3 1231.6 L1935.4 1230.4 L1937.0 1230.1 L1938.6 1229.8 L1940.3 1229.6 L1941.9 1229.6 L1943.6 1229.7 L1945.7 1231.5 L1947.9 1233.3 L1949.6 1233.5 L1951.4 1233.6 L1953.2 1233.7 L1955.0 1233.7 L1956.8 1233.5 L1958.6 1233.3 L1960.4 1232.7 L1962.1 1231.8 L1963.9 1230.7 L1965.7 1229.7 L1967.5 1229.0 L1969.3 1228.7 L1971.1 1228.4 L1972.9 1228.2 L1974.6 1228.0 L1976.4 1227.8 L1978.2 1227.5 L1980.0 1227.2 L1982.0 1225.7 L1984.0 1223.9 L1986.1 1223.3 L1987.7 1224.4 L1989.3 1226.5 L1990.9 1228.8 L1992.5 1230.4 L1994.3 1231.3 L1996.1 1231.8 L1997.9 1232.3 L1999.6 1232.6 L2001.4 1232.8 L2003.2 1233.0 L2005.0 1233.3 L2006.6 1234.0 L2008.2 1235.0 L2009.8 1235.9 L2011.4 1236.1 L2013.5 1235.0 L2015.5 1233.0 L2017.5 1231.5 L2019.3 1230.9 L2021.1 1230.2 L2022.9 1229.7 L2024.6 1229.4 L2026.4 1229.7 L2028.4 1231.4 L2030.4 1234.2 L2032.3 1237.0 L2034.3 1238.6 L2035.9 1238.9 L2037.6 1238.7 L2039.2 1238.1 L2040.9 1237.4 L2042.5 1236.9 L2044.3 1236.1 L2046.1 1235.0 L2047.9 1233.9 L2049.6 1233.3 L2051.4 1233.1 L2053.2 1233.3 L2055.0 1233.3 L2056.8 1232.7 L2058.6 1232.0 L2060.4 1231.5 L2062.1 1231.6 L2063.9 1232.1 L2065.7 1232.5 L2067.5 1232.6 L2069.3 1232.2 L2071.1 1231.5 L2072.9 1230.8 L2074.6 1230.4 L2076.4 1230.7 L2078.2 1231.4 L2080.0 1232.2 L2081.8 1233.1 L2083.6 1234.3 L2085.4 1235.4 L2087.1 1236.1 L2088.9 1236.5 L2090.7 1236.6 L2092.5 1236.6 L2094.3 1236.1 L2096.1 1235.1 L2097.9 1233.5 L2099.6 1231.8 L2101.4 1230.4 L2103.2 1229.3 L2105.0 1228.0 L2106.8 1226.9 L2108.6 1226.1 L2110.4 1225.7 L2112.1 1225.7 L2113.9 1226.1 L2115.7 1227.4 L2117.5 1229.2 L2119.3 1230.4 L2121.1 1230.6 L2122.9 1230.5 L2124.6 1230.3 L2126.4 1230.4 L2128.2 1231.5 L2130.0 1232.9 L2131.8 1233.3 L2134.1 1230.2 L2136.4 1226.9 L2138.1 1226.6 L2139.8 1227.0 L2141.4 1227.2 L2143.8 1226.2 L2146.1 1226.1 L2147.9 1227.6 L2149.6 1229.9 L2151.4 1232.6 L2153.2 1234.7 L2155.0 1235.8 L2156.6 1234.9 L2158.2 1232.5 L2159.8 1230.1 L2161.4 1229.0 L2163.6 1232.2 L2165.7 1235.8 L2167.5 1235.2 L2169.3 1233.6 L2171.1 1232.6 L2173.4 1232.7 L2175.7 1234.0 L2177.4 1236.3 L2179.0 1239.4 L2180.7 1241.1 L2182.4 1241.0 L2184.0 1240.4 L2185.7 1239.4 L2187.4 1238.4 L2189.0 1237.5 L2190.7 1236.9 L2192.5 1236.4 L2194.3 1236.2 L2196.1 1235.8 L2198.4 1233.4 L2200.7 1231.5 L2202.7 1231.9 L2204.6 1232.9 L2206.6 1234.1 L2208.6 1235.1 L2210.2 1235.8 L2211.8 1236.7 L2213.4 1237.4 L2215.0 1237.6 L2217.0 1236.7 L2219.0 1235.2 L2221.1 1234.0 L2222.9 1233.6 L2224.6 1232.6 L2226.4 1227.9 L2228.2 1223.3 L2230.5 1221.8 L2232.9 1221.5 L2235.0 1221.8 L2237.1 1222.6 L2238.9 1224.3 L2240.7 1226.1 L2242.5 1226.7 L2244.3 1227.1 L2246.1 1227.9 L2247.9 1229.8 L2249.6 1232.3 L2251.4 1234.0 L2253.6 1234.5 L2255.7 1234.0 L2258.6 1231.5 L2260.7 1233.7 L2262.9 1235.8 L2264.8 1235.1 L2266.7 1233.6 L2268.6 1232.6 L2270.2 1232.4 L2271.8 1232.2 L2273.4 1232.2 L2275.0 1232.2 L2276.6 1232.3 L2278.2 1232.6 L2280.5 1234.8 L2282.9 1236.9 L2284.9 1236.7 L2286.9 1236.0 L2288.9 1235.1 L2290.7 1233.7 L2292.5 1231.9 L2294.3 1230.4 L2296.1 1229.8 L2297.9 1229.2 L2299.6 1228.7 L2301.4 1228.2 L2303.2 1227.9 L2305.0 1227.7 L2306.8 1227.6 L2308.6 1227.5 L2310.4 1227.5 L2312.1 1227.6 L2313.9 1227.9 L2315.7 1228.3 L2317.5 1229.0 L2319.3 1229.7 L2321.1 1230.9 L2322.9 1232.4 L2324.6 1234.0 L2326.4 1235.1 L2328.0 1235.8 L2329.6 1236.4 L2331.2 1236.6 L2332.9 1236.1 L2334.6 1234.8 L2336.3 1232.5 L2338.0 1230.0 L2339.7 1227.7 L2341.4 1226.1 L2343.0 1225.3 L2344.6 1224.9 L2346.2 1224.8 L2347.9 1224.7 L2349.6 1224.4 L2351.4 1224.2 L2353.2 1224.7 L2355.0 1226.0 L2356.8 1228.1 L2358.6 1230.1 L2360.4 1231.5 L2362.1 1232.3 L2363.9 1232.7 L2365.7 1232.6 L2367.5 1231.6 L2369.3 1230.0 L2371.1 1229.0 L2373.4 1229.3 L2375.7 1229.7 L2377.9 1228.2 L2380.0 1227.2 L2382.1 1230.1 L2384.3 1233.3 L2385.9 1233.7 L2387.5 1233.7 L2389.1 1233.5 L2390.7 1233.3 L2392.5 1232.7 L2394.3 1232.0 L2396.1 1231.5 L2397.9 1231.8 L2399.6 1232.3 L2401.4 1232.2 L2403.2 1231.2 L2405.0 1229.5 L2406.8 1227.9 L2408.6 1227.2 L2410.4 1227.9 L2412.1 1229.4 L2413.9 1231.2 L2415.7 1232.6 L2417.5 1233.6 L2419.3 1234.5 L2421.1 1235.4 L2422.9 1236.1 L2424.5 1236.8 L2426.1 1237.4 L2427.7 1237.9 L2429.3 1237.9 L2431.2 1237.3 L2433.2 1236.2 L2435.2 1235.0 L2437.1 1234.0 L2438.8 1233.2 L2440.4 1232.4 L2442.0 1231.7 L2443.6 1231.5 L2445.6 1232.4 L2447.6 1234.0 L2449.6 1235.1 L2451.4 1235.4 L2453.2 1235.3 L2455.0 1235.1 L2456.8 1234.5 L2458.6 1233.6 L2460.4 1232.6 L2462.1 1231.6 L2463.9 1230.3 L2465.7 1229.0 L2467.5 1228.3 L2469.3 1228.1 L2471.1 1228.3 L2472.9 1229.0 L2474.6 1231.5 L2476.4 1234.0 L2478.0 1234.4 L2479.6 1234.6 L2481.2 1234.7 L2482.9 1235.1 L2484.9 1236.2 L2486.9 1237.6 L2488.9 1238.6 L2490.7 1239.1 L2492.5 1239.3 L2494.3 1238.6 L2496.1 1237.5 L2497.9 1235.6 L2499.6 1233.6 L2501.4 1231.7 L2503.2 1230.4 L2505.0 1229.5 L2506.8 1228.9 L2508.6 1228.7 L2510.4 1229.0 L2512.1 1231.2 L2513.9 1234.5 L2515.7 1236.9 L2517.5 1237.4 L2519.3 1237.3 L2521.1 1236.9 L2522.9 1236.1 L2524.6 1235.0 L2526.4 1234.4 L2528.2 1234.4 L2530.0 1234.7 L2531.8 1235.0 L2533.6 1235.2 L2535.4 1235.1 L2537.1 1234.2 L2538.9 1232.9 L2540.7 1231.4 L2542.5 1230.4 L2544.1 1229.9 L2545.8 1229.4 L2547.4 1229.1 L2549.1 1228.9 L2550.7 1229.0 L2552.7 1230.0 L2554.8 1231.7 L2556.8 1233.3 L2558.6 1234.4 L2560.4 1235.8 L2562.1 1237.0 L2563.9 1237.6 L2565.7 1236.7 L2567.5 1235.0 L2569.3 1234.0 L2571.4 1235.1 L2573.6 1236.1 L2575.2 1235.7 L2576.9 1234.8 L2578.5 1233.8 L2580.1 1232.8 L2581.8 1232.2 L2583.6 1231.8 L2585.4 1231.8 L2587.1 1232.2 L2588.9 1233.0 L2590.7 1234.3 L2592.5 1235.5 L2594.3 1236.1 L2596.1 1236.1 L2597.9 1235.6 L2599.6 1235.0 L2601.4 1234.4 L2603.1 1234.0 L2604.8 1233.5 L2606.5 1232.9 L2608.2 1232.3 L2609.9 1231.7 L2611.6 1231.2 L2613.3 1230.9 L2615.0 1230.8 L2617.1 1232.9 L2619.3 1235.1 L2621.1 1234.9 L2622.9 1234.2 L2624.6 1233.4 L2626.4 1232.8 L2628.2 1232.6 L2630.5 1234.9 L2632.9 1236.9 L2634.9 1235.8 L2636.9 1233.6 L2638.9 1231.5 L2640.7 1230.6 L2642.5 1229.6 L2644.3 1228.4 L2646.1 1227.2 L2647.9 1226.2 L2649.6 1225.3 L2651.4 1224.7 L2653.0 1224.2 L2654.6 1224.1 L2656.2 1224.2 L2657.9 1224.7 L2660.0 1227.6 L2662.1 1230.4 L2663.9 1230.2 L2665.7 1229.2 L2667.5 1229.0 L2669.3 1230.6 L2671.1 1233.2 L2672.9 1235.1 L2675.0 1236.6 L2677.1 1236.9 L2679.5 1233.6 L2681.8 1230.4 L2683.6 1230.7 L2685.4 1231.9 L2687.1 1232.6 L2688.9 1232.1 L2690.7 1231.1 L2692.5 1230.2 L2694.3 1229.7 L2695.9 1229.9 L2697.5 1230.6 L2699.1 1231.4 L2700.7 1232.0 L2702.5 1232.5 L2704.3 1233.0 L2706.1 1233.6 L2707.9 1234.1 L2709.6 1234.7 L2711.3 1235.2 L2713.0 1236.0 L2714.6 1236.8 L2716.3 1237.6 L2717.9 1238.2 L2719.6 1238.7 L2721.2 1238.8 L2723.3 1237.8 L2725.4 1235.7 L2727.5 1233.8 L2729.3 1233.1 L2731.1 1232.2 L2732.9 1231.3 L2734.6 1230.4 L2736.4 1229.6 L2738.2 1228.9 L2740.0 1228.5 L2741.8 1228.1 L2743.6 1228.2 L2745.4 1228.8 L2747.1 1229.6 L2748.9 1230.8 L2750.7 1232.1 L2752.5 1233.2 L2754.3 1233.8 L2756.1 1233.7 L2757.9 1233.2 L2759.6 1232.4 L2761.4 1231.8 L2763.2 1231.5 L2765.0 1232.3 L2766.8 1233.6 L2768.6 1234.2 L2770.4 1233.6 L2772.1 1232.3 L2773.9 1231.0 L2775.7 1230.2 L2777.5 1230.0 L2779.3 1230.0 L2781.1 1230.2 L2782.9 1230.8 L2784.5 1231.8 L2786.1 1233.3 L2787.7 1235.0 L2789.3 1236.4 L2790.9 1237.4 L2792.7 1238.1 L2794.5 1237.4 L2796.1 1236.6 L2797.7 1235.3 L2799.4 1233.7 L2801.0 1232.1 L2802.6 1230.7 L2804.3 1229.7 L2806.0 1229.1 L2807.6 1228.5 L2809.3 1227.8 L2811.0 1227.2 L2812.7 1226.8 L2814.3 1226.5 L2816.0 1226.4 L2817.7 1226.7 L2819.4 1227.4 L2821.0 1228.6 L2822.7 1230.1 L2824.4 1231.8 L2826.0 1233.6 L2827.7 1235.2 L2829.4 1236.5 L2831.1 1237.4 L2832.9 1238.5 L2834.6 1239.1 L2836.4 1239.2 L2838.2 1238.6 L2839.8 1237.4 L2841.4 1235.3 L2843.0 1232.9 L2844.6 1230.8 L2846.2 1229.4 L2848.0 1228.5 L2849.8 1228.1 L2851.6 1228.1 L2853.4 1228.5 L2855.0 1229.5 L2856.6 1231.1 L2858.2 1232.9 L2859.8 1234.5 L2861.4 1235.2 L2863.2 1234.4 L2865.0 1232.4 L2866.8 1231.1 L2869.0 1232.4 L2871.2 1233.5 L2873.5 1230.6 L2875.7 1227.9 L2877.3 1228.0 L2878.9 1228.3 L2880.5 1228.7 L2882.1 1229.2 L2883.8 1229.8 L2885.4 1230.5 L2887.0 1231.1 L2888.6 1231.7 L2890.2 1232.2 L2891.8 1232.6 L2893.6 1234.2 L2895.4 1235.1 L2897.0 1235.1 L2898.7 1235.0 L2900.4 1234.9 L2902.1 1234.7 L2903.8 1234.4 L2905.5 1234.1 L2907.2 1233.8 L2908.8 1233.4 L2910.5 1232.9 L2912.6 1228.8 L2914.6 1224.9 L2916.2 1224.2 L2917.9 1224.3 L2919.5 1224.9 L2921.7 1227.3 L2923.9 1229.7 L2926.2 1230.0 L2928.4 1230.2 L2930.5 1231.8 L2932.6 1234.0 L2934.6 1235.1 L2936.3 1235.0 L2938.0 1234.6 L2939.7 1234.1 L2941.4 1233.5 L2943.1 1232.8 L2944.8 1232.2 L2946.4 1231.6 L2948.1 1231.1 L2949.8 1230.8 L2951.7 1230.6 L2953.5 1230.7 L2955.3 1230.8 L2957.2 1231.0 L2959.0 1231.1 L2959.0 1279.0 Z" fill="url(#oc)"/><path d="M1792.0 1279.0 L1792.0 1330.0 L1793.7 1329.6 L1795.4 1328.9 L1797.1 1327.8 L1799.3 1323.7 L1801.4 1320.2 L1803.2 1320.6 L1805.0 1322.0 L1806.8 1323.2 L1808.6 1323.8 L1810.4 1324.4 L1812.1 1325.1 L1813.9 1326.7 L1815.7 1328.7 L1817.5 1330.0 L1819.8 1330.0 L1822.1 1328.9 L1824.3 1325.4 L1826.4 1322.5 L1828.2 1323.2 L1830.0 1325.0 L1831.8 1326.2 L1833.6 1326.3 L1835.4 1325.9 L1837.1 1325.9 L1839.3 1327.6 L1841.4 1328.9 L1843.1 1328.5 L1844.8 1327.7 L1846.4 1326.7 L1848.1 1325.6 L1849.8 1324.7 L1851.4 1324.0 L1853.2 1323.4 L1855.0 1322.9 L1856.8 1322.4 L1858.6 1322.3 L1860.4 1322.5 L1862.0 1323.5 L1863.6 1325.3 L1865.3 1327.3 L1866.9 1328.9 L1868.6 1329.6 L1870.2 1328.2 L1871.9 1325.3 L1873.6 1323.2 L1875.2 1322.8 L1876.8 1322.6 L1878.4 1322.8 L1880.0 1323.2 L1881.8 1324.8 L1883.6 1327.2 L1885.4 1328.9 L1887.1 1329.4 L1888.9 1330.0 L1890.7 1331.8 L1892.5 1334.3 L1894.3 1335.6 L1896.1 1335.1 L1897.9 1333.6 L1899.6 1331.9 L1902.0 1328.2 L1904.3 1325.1 L1906.4 1326.3 L1908.6 1327.8 L1910.4 1326.8 L1912.1 1325.2 L1913.9 1324.0 L1915.7 1323.7 L1917.5 1323.7 L1919.3 1324.0 L1921.1 1324.9 L1922.9 1326.2 L1924.6 1327.0 L1927.0 1326.4 L1929.3 1325.9 L1931.3 1327.0 L1933.3 1328.7 L1935.4 1330.0 L1937.0 1330.4 L1938.6 1330.7 L1940.3 1330.9 L1941.9 1330.9 L1943.6 1330.8 L1945.7 1328.9 L1947.9 1327.0 L1949.6 1326.8 L1951.4 1326.6 L1953.2 1326.6 L1955.0 1326.6 L1956.8 1326.7 L1958.6 1327.0 L1960.4 1327.6 L1962.1 1328.6 L1963.9 1329.7 L1965.7 1330.7 L1967.5 1331.5 L1969.3 1331.8 L1971.1 1332.1 L1972.9 1332.3 L1974.6 1332.6 L1976.4 1332.8 L1978.2 1333.1 L1980.0 1333.4 L1982.0 1334.9 L1984.0 1336.8 L1986.1 1337.5 L1987.7 1336.3 L1989.3 1334.1 L1990.9 1331.7 L1992.5 1330.0 L1994.3 1329.1 L1996.1 1328.5 L1997.9 1328.1 L1999.6 1327.8 L2001.4 1327.5 L2003.2 1327.3 L2005.0 1327.0 L2006.6 1326.3 L2008.2 1325.2 L2009.8 1324.3 L2011.4 1324.0 L2013.5 1325.2 L2015.5 1327.2 L2017.5 1328.9 L2019.3 1329.5 L2021.1 1330.2 L2022.9 1330.8 L2024.6 1331.0 L2026.4 1330.8 L2028.4 1329.0 L2030.4 1326.1 L2032.3 1323.1 L2034.3 1321.4 L2035.9 1321.1 L2037.6 1321.4 L2039.2 1321.9 L2040.9 1322.7 L2042.5 1323.2 L2044.3 1324.1 L2046.1 1325.2 L2047.9 1326.3 L2049.6 1327.0 L2051.4 1327.2 L2053.2 1327.0 L2055.0 1327.0 L2056.8 1327.6 L2058.6 1328.4 L2060.4 1328.9 L2062.1 1328.7 L2063.9 1328.3 L2065.7 1327.9 L2067.5 1327.8 L2069.3 1328.2 L2071.1 1328.9 L2072.9 1329.6 L2074.6 1330.0 L2076.4 1329.7 L2078.2 1329.0 L2080.0 1328.1 L2081.8 1327.2 L2083.6 1326.0 L2085.4 1324.8 L2087.1 1324.0 L2088.9 1323.6 L2090.7 1323.5 L2092.5 1323.6 L2094.3 1324.0 L2096.1 1325.1 L2097.9 1326.8 L2099.6 1328.6 L2101.4 1330.0 L2103.2 1331.2 L2105.0 1332.6 L2106.8 1333.7 L2108.6 1334.5 L2110.4 1334.9 L2112.1 1334.9 L2113.9 1334.5 L2115.7 1333.2 L2117.5 1331.3 L2119.3 1330.0 L2121.1 1329.8 L2122.9 1329.9 L2124.6 1330.1 L2126.4 1330.0 L2128.2 1328.9 L2130.0 1327.5 L2131.8 1327.0 L2134.1 1330.2 L2136.4 1333.8 L2138.1 1334.0 L2139.8 1333.6 L2141.4 1333.4 L2143.8 1334.4 L2146.1 1334.5 L2147.9 1333.0 L2149.6 1330.5 L2151.4 1327.8 L2153.2 1325.5 L2155.0 1324.4 L2156.6 1325.3 L2158.2 1327.8 L2159.8 1330.3 L2161.4 1331.5 L2163.6 1328.1 L2165.7 1324.4 L2167.5 1325.0 L2169.3 1326.6 L2171.1 1327.8 L2173.4 1327.6 L2175.7 1326.2 L2177.4 1323.8 L2179.0 1320.6 L2180.7 1318.8 L2182.4 1318.9 L2184.0 1319.6 L2185.7 1320.5 L2187.4 1321.6 L2189.0 1322.6 L2190.7 1323.2 L2192.5 1323.7 L2194.3 1323.9 L2196.1 1324.4 L2198.4 1326.9 L2200.7 1328.9 L2202.7 1328.5 L2204.6 1327.4 L2206.6 1326.1 L2208.6 1325.1 L2210.2 1324.3 L2211.8 1323.4 L2213.4 1322.7 L2215.0 1322.5 L2217.0 1323.4 L2219.0 1325.0 L2221.1 1326.2 L2222.9 1326.7 L2224.6 1327.8 L2226.4 1332.6 L2228.2 1337.5 L2230.5 1339.0 L2232.9 1339.4 L2235.0 1339.1 L2237.1 1338.2 L2238.9 1336.4 L2240.7 1334.5 L2242.5 1333.9 L2244.3 1333.4 L2246.1 1332.6 L2247.9 1330.7 L2249.6 1328.0 L2251.4 1326.2 L2253.6 1325.8 L2255.7 1326.2 L2258.6 1328.9 L2260.7 1326.6 L2262.9 1324.4 L2264.8 1325.1 L2266.7 1326.6 L2268.6 1327.8 L2270.2 1328.0 L2271.8 1328.1 L2273.4 1328.2 L2275.0 1328.1 L2276.6 1328.0 L2278.2 1327.8 L2280.5 1325.4 L2282.9 1323.2 L2284.9 1323.4 L2286.9 1324.1 L2288.9 1325.1 L2290.7 1326.6 L2292.5 1328.5 L2294.3 1330.0 L2296.1 1330.6 L2297.9 1331.3 L2299.6 1331.8 L2301.4 1332.3 L2303.2 1332.6 L2305.0 1332.9 L2306.8 1333.0 L2308.6 1333.1 L2310.4 1333.1 L2312.1 1333.0 L2313.9 1332.7 L2315.7 1332.2 L2317.5 1331.5 L2319.3 1330.8 L2321.1 1329.5 L2322.9 1327.9 L2324.6 1326.2 L2326.4 1325.1 L2328.0 1324.4 L2329.6 1323.7 L2331.2 1323.5 L2332.9 1324.0 L2334.6 1325.4 L2336.3 1327.8 L2338.0 1330.5 L2339.7 1332.9 L2341.4 1334.5 L2343.0 1335.4 L2344.6 1335.8 L2346.2 1335.9 L2347.9 1336.0 L2349.6 1336.3 L2351.4 1336.5 L2353.2 1336.0 L2355.0 1334.6 L2356.8 1332.5 L2358.6 1330.3 L2360.4 1328.9 L2362.1 1328.0 L2363.9 1327.6 L2365.7 1327.8 L2367.5 1328.8 L2369.3 1330.4 L2371.1 1331.5 L2373.4 1331.2 L2375.7 1330.8 L2377.9 1332.4 L2380.0 1333.4 L2382.1 1330.3 L2384.3 1327.0 L2385.9 1326.6 L2387.5 1326.6 L2389.1 1326.8 L2390.7 1327.0 L2392.5 1327.6 L2394.3 1328.4 L2396.1 1328.9 L2397.9 1328.6 L2399.6 1328.1 L2401.4 1328.1 L2403.2 1329.2 L2405.0 1331.0 L2406.8 1332.7 L2408.6 1333.4 L2410.4 1332.7 L2412.1 1331.0 L2413.9 1329.2 L2415.7 1327.8 L2417.5 1326.7 L2419.3 1325.7 L2421.1 1324.7 L2422.9 1324.0 L2424.5 1323.3 L2426.1 1322.6 L2427.7 1322.2 L2429.3 1322.1 L2431.2 1322.8 L2433.2 1324.0 L2435.2 1325.3 L2437.1 1326.2 L2438.8 1327.1 L2440.4 1328.0 L2442.0 1328.7 L2443.6 1328.9 L2445.6 1327.9 L2447.6 1326.3 L2449.6 1325.1 L2451.4 1324.8 L2453.2 1324.8 L2455.0 1325.1 L2456.8 1325.7 L2458.6 1326.7 L2460.4 1327.8 L2462.1 1328.8 L2463.9 1330.2 L2465.7 1331.5 L2467.5 1332.2 L2469.3 1332.5 L2471.1 1332.2 L2472.9 1331.5 L2474.6 1328.9 L2476.4 1326.2 L2478.0 1325.8 L2479.6 1325.6 L2481.2 1325.5 L2482.9 1325.1 L2484.9 1324.0 L2486.9 1322.4 L2488.9 1321.4 L2490.7 1320.9 L2492.5 1320.7 L2494.3 1321.4 L2496.1 1322.6 L2497.9 1324.5 L2499.6 1326.7 L2501.4 1328.7 L2503.2 1330.0 L2505.0 1331.0 L2506.8 1331.6 L2508.6 1331.9 L2510.4 1331.5 L2512.1 1329.2 L2513.9 1325.7 L2515.7 1323.2 L2517.5 1322.7 L2519.3 1322.8 L2521.1 1323.2 L2522.9 1324.0 L2524.6 1325.2 L2526.4 1325.9 L2528.2 1325.8 L2530.0 1325.6 L2531.8 1325.2 L2533.6 1325.0 L2535.4 1325.1 L2537.1 1326.0 L2538.9 1327.4 L2540.7 1328.9 L2542.5 1330.0 L2544.1 1330.5 L2545.8 1331.0 L2547.4 1331.4 L2549.1 1331.6 L2550.7 1331.5 L2552.7 1330.4 L2554.8 1328.6 L2556.8 1327.0 L2558.6 1325.8 L2560.4 1324.3 L2562.1 1323.1 L2563.9 1322.5 L2565.7 1323.4 L2567.5 1325.2 L2569.3 1326.2 L2571.4 1325.1 L2573.6 1324.0 L2575.2 1324.5 L2576.9 1325.4 L2578.5 1326.5 L2580.1 1327.5 L2581.8 1328.1 L2583.6 1328.5 L2585.4 1328.5 L2587.1 1328.1 L2588.9 1327.3 L2590.7 1326.0 L2592.5 1324.7 L2594.3 1324.0 L2596.1 1324.0 L2597.9 1324.5 L2599.6 1325.2 L2601.4 1325.9 L2603.1 1326.3 L2604.8 1326.8 L2606.5 1327.4 L2608.2 1328.1 L2609.9 1328.7 L2611.6 1329.2 L2613.3 1329.5 L2615.0 1329.6 L2617.1 1327.4 L2619.3 1325.1 L2621.1 1325.3 L2622.9 1326.0 L2624.6 1326.9 L2626.4 1327.6 L2628.2 1327.8 L2630.5 1325.3 L2632.9 1323.2 L2634.9 1324.4 L2636.9 1326.7 L2638.9 1328.9 L2640.7 1329.8 L2642.5 1330.9 L2644.3 1332.1 L2646.1 1333.3 L2647.9 1334.5 L2649.6 1335.4 L2651.4 1336.0 L2653.0 1336.5 L2654.6 1336.7 L2656.2 1336.5 L2657.9 1336.0 L2660.0 1332.9 L2662.1 1330.0 L2663.9 1330.3 L2665.7 1331.3 L2667.5 1331.5 L2669.3 1329.8 L2671.1 1327.1 L2672.9 1325.1 L2675.0 1323.5 L2677.1 1323.2 L2679.5 1326.6 L2681.8 1330.0 L2683.6 1329.7 L2685.4 1328.4 L2687.1 1327.8 L2688.9 1328.3 L2690.7 1329.3 L2692.5 1330.3 L2694.3 1330.8 L2695.9 1330.5 L2697.5 1329.8 L2699.1 1329.0 L2700.7 1328.3 L2702.5 1327.8 L2704.3 1327.3 L2706.1 1326.7 L2707.9 1326.1 L2709.6 1325.5 L2711.3 1324.9 L2713.0 1324.2 L2714.6 1323.3 L2716.3 1322.5 L2717.9 1321.8 L2719.6 1321.3 L2721.2 1321.2 L2723.3 1322.3 L2725.4 1324.4 L2727.5 1326.4 L2729.3 1327.2 L2731.1 1328.1 L2732.9 1329.1 L2734.6 1330.0 L2736.4 1330.9 L2738.2 1331.6 L2740.0 1332.1 L2741.8 1332.5 L2743.6 1332.3 L2745.4 1331.7 L2747.1 1330.9 L2748.9 1329.6 L2750.7 1328.2 L2752.5 1327.1 L2754.3 1326.4 L2756.1 1326.5 L2757.9 1327.1 L2759.6 1327.9 L2761.4 1328.6 L2763.2 1328.9 L2765.0 1328.1 L2766.8 1326.7 L2768.6 1326.1 L2770.4 1326.7 L2772.1 1328.0 L2773.9 1329.4 L2775.7 1330.2 L2777.5 1330.5 L2779.3 1330.5 L2781.1 1330.2 L2782.9 1329.6 L2784.5 1328.6 L2786.1 1327.0 L2787.7 1325.2 L2789.3 1323.7 L2790.9 1322.7 L2792.7 1321.9 L2794.5 1322.7 L2796.1 1323.6 L2797.7 1324.9 L2799.4 1326.6 L2801.0 1328.2 L2802.6 1329.7 L2804.3 1330.8 L2806.0 1331.4 L2807.6 1332.1 L2809.3 1332.7 L2811.0 1333.4 L2812.7 1333.8 L2814.3 1334.1 L2816.0 1334.2 L2817.7 1333.9 L2819.4 1333.2 L2821.0 1332.0 L2822.7 1330.3 L2824.4 1328.5 L2826.0 1326.7 L2827.7 1325.0 L2829.4 1323.6 L2831.1 1322.7 L2832.9 1321.6 L2834.6 1320.9 L2836.4 1320.8 L2838.2 1321.4 L2839.8 1322.7 L2841.4 1324.9 L2843.0 1327.4 L2844.6 1329.6 L2846.2 1331.1 L2848.0 1332.0 L2849.8 1332.5 L2851.6 1332.5 L2853.4 1332.1 L2855.0 1331.0 L2856.6 1329.3 L2858.2 1327.4 L2859.8 1325.7 L2861.4 1324.9 L2863.2 1325.8 L2865.0 1327.9 L2866.8 1329.2 L2869.0 1328.0 L2871.2 1326.8 L2873.5 1329.8 L2875.7 1332.6 L2877.3 1332.5 L2878.9 1332.3 L2880.5 1331.8 L2882.1 1331.3 L2883.8 1330.6 L2885.4 1330.0 L2887.0 1329.3 L2888.6 1328.7 L2890.2 1328.1 L2891.8 1327.8 L2893.6 1326.1 L2895.4 1325.1 L2897.0 1325.1 L2898.7 1325.2 L2900.4 1325.4 L2902.1 1325.5 L2903.8 1325.8 L2905.5 1326.1 L2907.2 1326.5 L2908.8 1326.9 L2910.5 1327.4 L2912.6 1331.7 L2914.6 1335.8 L2916.2 1336.5 L2917.9 1336.4 L2919.5 1335.8 L2921.7 1333.3 L2923.9 1330.8 L2926.2 1330.5 L2928.4 1330.2 L2930.5 1328.5 L2932.6 1326.3 L2934.6 1325.1 L2936.3 1325.2 L2938.0 1325.6 L2939.7 1326.1 L2941.4 1326.8 L2943.1 1327.5 L2944.8 1328.2 L2946.4 1328.8 L2948.1 1329.3 L2949.8 1329.6 L2951.7 1329.8 L2953.5 1329.8 L2955.3 1329.6 L2957.2 1329.4 L2959.0 1329.2 L2959.0 1279.0 Z" fill="url(#bc)"/></svg>
<span class="t" style="left:1701.05px;top:342.35px;font-size:24.4px;color:#111111;letter-spacing:-1.450px;">17.2</span>
<span class="t" style="left:1730.15px;top:402.85px;font-size:24.4px;color:#111111;">0</span>
<span class="t" style="left:1685.70px;top:774.35px;font-size:24.4px;color:#111111;letter-spacing:1.333px;">204k</span>
<span class="t" style="left:1730.15px;top:834.85px;font-size:24.4px;color:#111111;">0</span>
<span class="t" style="left:1699.20px;top:1206.35px;font-size:24.4px;color:#111111;letter-spacing:1.875px;">434</span>
<span class="t" style="left:1730.15px;top:1266.85px;font-size:24.4px;color:#111111;">0</span>
<span class="t b" style="left:3061.30px;top:1188.31px;font-size:49.6px;color:#e8963b;font-weight:700;letter-spacing:2.925px;">342</span>
<span class="t b" style="left:3064.80px;top:1300.61px;font-size:49.6px;color:#3b81bd;font-weight:700;letter-spacing:1.350px;">357</span>
<svg class="x" style="left:3158px;top:1187px" width="50" height="50" viewBox="0 0 50 50"><path d="M25 7.9 V42.6 M8.4 25 L25 42.6 L41.6 25" stroke="#e8963b" stroke-width="7.2" fill="none" stroke-linecap="round" stroke-linejoin="round"/></svg>
<svg class="x" style="left:3158px;top:1299px" width="50" height="50" viewBox="0 0 50 50"><path d="M25 42.2 V7.6 M8.4 25.2 L25 7.6 L41.6 25.2" stroke="#3b81bd" stroke-width="7.2" fill="none" stroke-linecap="round" stroke-linejoin="round"/></svg>
<span class="t" style="left:3068.30px;top:1413.55px;font-size:24.4px;color:#111111;letter-spacing:1.583px;">per second</span>
<div class="tip"><div class="tiparrow"></div></div>
<span class="t" style="left:1458.30px;top:921.35px;font-size:24.4px;color:#111111;letter-spacing:1.498px;">storefront.product.restricted</span>
<span class="t" style="left:1458.80px;top:977.15px;font-size:24.4px;color:#5bc67b;letter-spacing:0.954px;">Allowed: 5.58</span>
<div class="dd"></div><div class="ddarrow"></div><div class="ddcover"></div>
<svg class="x" style="left:2711px;top:122px" width="32" height="32" viewBox="0 0 32 32"><rect width="32" height="32" rx="7" fill="#2c3880"/><path d="M9 17.2 L12.8 21 L23.1 11" stroke="#fff" stroke-width="3.8" fill="none" stroke-linecap="round" stroke-linejoin="round"/></svg>
<span class="t" style="left:2759.50px;top:122.96px;font-size:28.4px;color:#111111;letter-spacing:1.235px;">Total Policies</span>
<svg class="x" style="left:2711px;top:186px" width="32" height="32" viewBox="0 0 32 32"><rect width="32" height="32" rx="7" fill="#2c3880"/><path d="M9 17.2 L12.8 21 L23.1 11" stroke="#fff" stroke-width="3.8" fill="none" stroke-linecap="round" stroke-linejoin="round"/></svg>
<span class="t" style="left:2759.50px;top:186.96px;font-size:28.4px;color:#111111;letter-spacing:1.571px;">Total Endpoints</span>
<svg class="x" style="left:2711px;top:250px" width="32" height="32" viewBox="0 0 32 32"><rect width="32" height="32" rx="7" fill="#2c3880"/><path d="M9 17.2 L12.8 21 L23.1 11" stroke="#fff" stroke-width="3.8" fill="none" stroke-linecap="round" stroke-linejoin="round"/></svg>
<span class="t" style="left:2759.50px;top:250.96px;font-size:28.4px;color:#111111;letter-spacing:1.750px;">Total Nodes</span>
<svg class="x" style="left:2711px;top:314px" width="32" height="32" viewBox="0 0 32 32"><rect width="32" height="32" rx="7" fill="#2c3880"/><path d="M9 17.2 L12.8 21 L23.1 11" stroke="#fff" stroke-width="3.8" fill="none" stroke-linecap="round" stroke-linejoin="round"/></svg>
<span class="t" style="left:2757.75px;top:314.96px;font-size:28.4px;color:#111111;letter-spacing:0.997px;">Packets By Policy</span>
<svg class="x" style="left:2711px;top:378px" width="32" height="32" viewBox="0 0 32 32"><rect width="32" height="32" rx="7" fill="#2c3880"/><path d="M9 17.2 L12.8 21 L23.1 11" stroke="#fff" stroke-width="3.8" fill="none" stroke-linecap="round" stroke-linejoin="round"/></svg>
<span class="t" style="left:2758.75px;top:378.96px;font-size:28.4px;color:#111111;letter-spacing:2.115px;">Connections</span>
<svg class="x" style="left:2711px;top:442px" width="32" height="32" viewBox="0 0 32 32"><rect width="32" height="32" rx="7" fill="#2c3880"/><path d="M9 17.2 L12.8 21 L23.1 11" stroke="#fff" stroke-width="3.8" fill="none" stroke-linecap="round" stroke-linejoin="round"/></svg>
<span class="t" style="left:2760.00px;top:442.96px;font-size:28.4px;color:#111111;letter-spacing:1.342px;">Allowed Bytes</span>
<svg class="x" style="left:2711px;top:506px" width="32" height="32" viewBox="0 0 32 32"><rect width="32" height="32" rx="7" fill="#2c3880"/><path d="M9 17.2 L12.8 21 L23.1 11" stroke="#fff" stroke-width="3.8" fill="none" stroke-linecap="round" stroke-linejoin="round"/></svg>
<span class="t" style="left:2757.75px;top:506.96px;font-size:28.4px;color:#111111;letter-spacing:1.359px;">Denied Bytes</span>
<svg class="x" style="left:2711px;top:570px" width="32" height="32" viewBox="0 0 32 32"><rect width="32" height="32" rx="7" fill="#2c3880"/><path d="M9 17.2 L12.8 21 L23.1 11" stroke="#fff" stroke-width="3.8" fill="none" stroke-linecap="round" stroke-linejoin="round"/></svg>
<span class="t" style="left:2760.00px;top:570.96px;font-size:28.4px;color:#111111;letter-spacing:1.400px;">Allowed Packets</span>
<svg class="x" style="left:2711px;top:634px" width="32" height="32" viewBox="0 0 32 32"><rect width="32" height="32" rx="7" fill="#2c3880"/><path d="M9 17.2 L12.8 21 L23.1 11" stroke="#fff" stroke-width="3.8" fill="none" stroke-linecap="round" stroke-linejoin="round"/></svg>
<span class="t" style="left:2757.75px;top:634.96px;font-size:28.4px;color:#111111;letter-spacing:1.442px;">Denied Packets</span>
<svg class="x" style="left:2711px;top:698px" width="32" height="32" viewBox="0 0 32 32"><rect width="32" height="32" rx="7" fill="#2c3880"/><path d="M9 17.2 L12.8 21 L23.1 11" stroke="#fff" stroke-width="3.8" fill="none" stroke-linecap="round" stroke-linejoin="round"/></svg>
<span class="t" style="left:2758.75px;top:698.96px;font-size:28.4px;color:#111111;letter-spacing:1.369px;">CIS Benchmarks</span>
<svg class="x" style="left:2711px;top:762px" width="32" height="32" viewBox="0 0 32 32"><rect width="32" height="32" rx="7" fill="#2c3880"/><path d="M9 17.2 L12.8 21 L23.1 11" stroke="#fff" stroke-width="3.8" fill="none" stroke-linecap="round" stroke-linejoin="round"/></svg>
<span class="t" style="left:2759.50px;top:762.96px;font-size:28.4px;color:#111111;letter-spacing:1.773px;">Total Alerts</span>
<div class="cb" style="left:2711px;top:826px"></div>
<span class="t" style="left:2760.00px;top:826.96px;font-size:28.4px;color:#111111;letter-spacing:1.631px;">Wireguard. Bytes sent/received</span>
<div class="cb" style="left:2711px;top:890px"></div>
<span class="t" style="left:2760.00px;top:890.96px;font-size:28.4px;color:#111111;letter-spacing:1.658px;">Wireguard. Handshake</span>
<span class="t b" style="left:2711.55px;top:951.59px;font-size:28.6px;color:#2a377e;font-weight:700;letter-spacing:0.500px;">Show All</span>
<span class="t b" style="left:2710.55px;top:1009.59px;font-size:28.6px;color:#2a377e;font-weight:700;letter-spacing:0.768px;">Restore Default</span>
</div>
</body></html>
